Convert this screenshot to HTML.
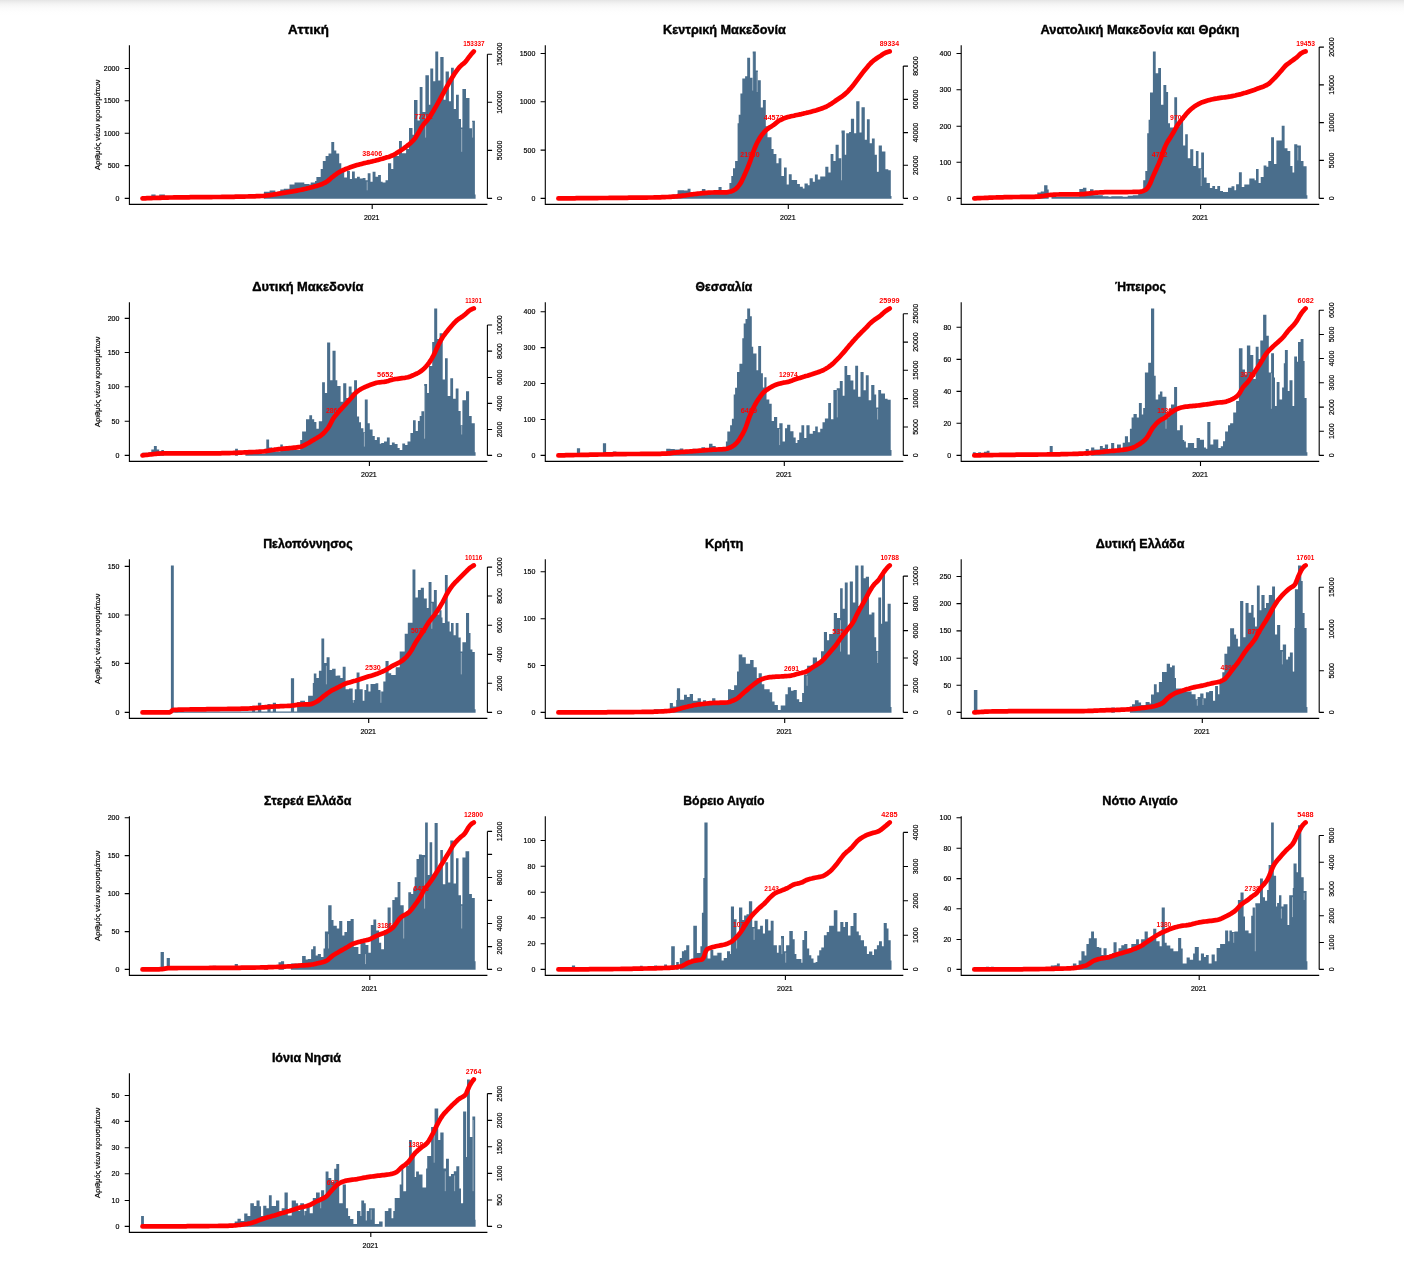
<!DOCTYPE html>
<html lang="el"><head><meta charset="utf-8"><title>Κρούσματα ανά περιφέρεια</title>
<style>html,body{margin:0;padding:0;background:#fff}body{width:1404px;height:1264px;overflow:hidden;position:relative}#top{position:absolute;left:0;top:0;width:100%;height:15px;background:linear-gradient(#e4e4e4 0,#ebebeb 1.5px,#f4f4f4 4px,#fbfbfb 8px,#fefefe 12px,#fff 15px)}svg{position:absolute;left:0;top:0;display:block}text{font-family:"Liberation Sans",sans-serif;fill:#000}.t{font-size:13px;font-weight:bold;text-anchor:middle;fill:#000;stroke:#000;stroke-width:.4px}.k,.kr,.km{font-size:7px;stroke:#000;stroke-width:.18px}.kr{text-anchor:end}.km{text-anchor:middle}.rl{font-size:7px;font-weight:bold;fill:#f00;text-anchor:middle}.ax{stroke:#000;stroke-width:1.1;fill:none}.b{fill:#4a6e8c}.c{fill:none;stroke:#ff0000;stroke-width:4.7;stroke-linecap:round;stroke-linejoin:round}</style></head><body><div id="top"></div>
<svg width="1404" height="1264" viewBox="0 0 1404 1264">
<g transform="translate(0,0)">
<text class="t" x="308.4" y="33.6" textLength="40.8" lengthAdjust="spacingAndGlyphs">Αττική</text>
<text class="km" transform="translate(100,124.8) rotate(-90)" textLength="90.5" lengthAdjust="spacingAndGlyphs">Αριθμός νέων κρουσμάτων</text>
<path class="b" d="M151.3 198.7V194.5H155.6V198.7ZM159.2 198.7V194.5H164.9V198.7ZM263.9 198.7V191.7H269.6V198.7ZM269.6 198.7V190.6H275.3V198.7ZM275.3 198.7V192.4H280.3V198.7ZM280.3 198.7V189.6H283.8V198.7ZM283.8 198.7V188.8H289.5V198.7ZM289.5 198.7V184.6H294.5V198.7ZM294.5 198.7V182.4H298.8V198.7ZM298.8 198.7V182.4H301V198.7ZM301 198.7V182.4H304.3V198.7ZM304.3 198.7V183.9H309.3V198.7ZM309.3 198.7V184.6H310.7V198.7ZM310.7 198.7V182.4H315V198.7ZM315 198.7V181H316.4V198.7ZM316.4 198.7V177H320.7V198.7ZM320.7 198.7V168.9H322.8V198.7ZM322.8 198.7V161.1H325.6V198.7ZM325.6 198.7V156.1H328.5V198.7ZM328.5 198.7V153.5H331.3V198.7ZM331.3 198.7V142.1H334.2V198.7ZM334.2 198.7V150.4H336.3V198.7ZM336.3 198.7V153.5H339.2V198.7ZM339.2 198.7V163.2H341.3V198.7ZM341.3 198.7V170.3H344.2V198.7ZM344.2 198.7V177.5H347V198.7ZM347 198.7V171H349.9V198.7ZM349.9 198.7V178.9H352V198.7ZM352 198.7V171.5H354.8V198.7ZM354.8 198.7V178.2H357V198.7ZM357 198.7V176.7H359.8V198.7ZM359.8 198.7V178.6H362.7V198.7ZM362.7 198.7V177.9H365.5V198.7ZM365.5 198.7V180.3H367.7V198.7ZM367.7 198.7V173.2H370.5V198.7ZM370.5 198.7V181.7H372.6V198.7ZM372.6 198.7V171.8H375.5V198.7ZM375.5 198.7V176.7H378.1V198.7ZM378.1 198.7V174.9H380.9V198.7ZM380.9 198.7V181.7H382.6V198.7ZM382.6 198.7V182.4H385.5V198.7ZM385.5 198.7V180.3H388V198.7ZM388 198.7V163.2H391.2V198.7ZM391.2 198.7V168.9H393.3V198.7ZM393.3 198.7V156.1H399V198.7ZM399 198.7V141.1H401.9V198.7ZM401.9 198.7V153.2H406.1V198.7ZM406.1 198.7V149H409V198.7ZM409 198.7V127.9H412.5V198.7ZM412.5 198.7V134.7H414V198.7ZM414 198.7V100.1H417.5V198.7ZM417.5 198.7V120.5H419.7V198.7ZM419.7 198.7V87H422.5V198.7ZM422.5 198.7V111.9H425.4V198.7ZM425.4 198.7V75.3H428.9V198.7ZM428.9 198.7V104.8H430.3V198.7ZM430.3 198.7V68.5H433.2V198.7ZM433.2 198.7V81.3H435.3V198.7ZM435.3 198.7V51.4H438.2V198.7ZM438.2 198.7V80.6H440.3V198.7ZM440.3 198.7V57.1H443.6V198.7ZM443.6 198.7V99.8H445.6V198.7ZM445.6 198.7V71.6H448.9V198.7ZM448.9 198.7V101.2H451V198.7ZM451 198.7V67.8H453.8V198.7ZM453.8 198.7V109.1H456V198.7ZM456 198.7V94.8H458.8V198.7ZM458.8 198.7V119H461V198.7ZM461 198.7V127.6H462.4V198.7ZM462.4 198.7V89.1H466V198.7ZM466 198.7V98.1H469.5V198.7ZM469.5 198.7V128.3H472.1V198.7ZM472.1 198.7V120.8H474.9V198.7ZM474.9 198.7V194.5H475.6V198.7Z"/>
<path d="M367.2 181.7V190.3M461.7 129V151.8M425.6 114.8V137.6M472.6 121.9V137.6" stroke="#fff" stroke-width="0.6" stroke-opacity="0.75" fill="none"/>
<path class="ax" d="M129.4 45.3V204.4H487.4"/>
<path class="ax" d="M129.4 68.5h-4.7M129.4 100.8h-4.7M129.4 133.3h-4.7M129.4 165.6h-4.7M129.4 198.4h-4.7M487.4 54.2V198.4M487.4 54.2h4.7M487.4 102.2h4.7M487.4 150.4h4.7M487.4 198.4h4.7M372.2 204.4v4.7"/>
<text class="kr" x="119.4" y="71">2000</text>
<text class="kr" x="119.4" y="103.3">1500</text>
<text class="kr" x="119.4" y="135.8">1000</text>
<text class="kr" x="119.4" y="168.1">500</text>
<text class="kr" x="119.4" y="200.9">0</text>
<text class="km" transform="translate(502.4,54.2) rotate(-90)">150000</text>
<text class="km" transform="translate(502.4,102.2) rotate(-90)">100000</text>
<text class="km" transform="translate(502.4,150.4) rotate(-90)">50000</text>
<text class="km" transform="translate(502.4,198.4) rotate(-90)">0</text>
<text class="km" x="371.7" y="219.5">2021</text>
<text class="rl" x="372.2" y="156.4" textLength="19.8" lengthAdjust="spacingAndGlyphs">38406</text>
<text class="rl" x="423.6" y="119" textLength="18.1" lengthAdjust="spacingAndGlyphs">77291</text>
<text class="rl" x="473.9" y="46.3" textLength="21.4" lengthAdjust="spacingAndGlyphs">153337</text>
<polyline class="c" points="142.5,198.4 144,198.3 145.5,198.3 147,198.2 148.5,198.2 150,198.1 151.5,198.1 153,198 154.5,198 156,197.9 157.5,197.9 159,197.8 160.5,197.8 162,197.7 163.5,197.7 165,197.6 166.5,197.6 168,197.6 169.5,197.5 171,197.5 172.5,197.5 174,197.4 175.5,197.4 177,197.4 178.5,197.4 180,197.4 181.5,197.3 183,197.3 184.5,197.3 186,197.3 187.5,197.3 189,197.3 190.5,197.2 192,197.2 193.5,197.2 195,197.2 196.5,197.2 198,197.2 199.5,197.2 201,197.2 202.5,197.1 204,197.1 205.5,197.1 207,197.1 208.5,197.1 210,197.1 211.5,197.1 213,197 214.5,197 216,197 217.5,197 219,197 220.5,197 222,196.9 223.5,196.9 225,196.9 226.5,196.9 228,196.9 229.5,196.8 231,196.8 232.5,196.8 234,196.8 235.5,196.7 237,196.7 238.5,196.7 240,196.7 241.5,196.6 243,196.6 244.5,196.6 246,196.5 247.5,196.5 249,196.4 250.5,196.4 252,196.4 253.5,196.3 255,196.3 256.5,196.2 258,196.2 259.5,196.1 261,196 262.5,196 264,195.9 265.5,195.7 267,195.5 268.5,195.3 270,195.1 271.5,194.8 273,194.6 274.5,194.3 276,194.1 277.5,193.9 279,193.6 280.5,193.4 282,193.2 283.5,192.9 285,192.7 286.5,192.4 288,192.2 289.5,191.9 291,191.7 292.5,191.4 294,191.2 295.5,190.9 297,190.6 298.5,190.3 300,190 301.5,189.7 303,189.4 304.5,189 306,188.7 307.5,188.3 309,188 310.5,187.6 312,187.2 313.5,186.8 315,186.3 316.5,185.9 318,185.4 319.5,185 321,184.4 322.5,183.9 324,183.2 325.5,182.5 327,181.6 328.5,180.4 330,179.1 331.5,177.7 333,176.6 334.5,175.4 336,174.3 337.5,173.2 339,172.3 340.5,171.4 342,170.7 343.5,170 345,169.3 346.5,168.7 348,168.2 349.5,167.6 351,167.1 352.5,166.6 354,166.1 355.5,165.6 357,165.1 358.5,164.7 360,164.3 361.5,163.9 363,163.5 364.5,163.1 366,162.8 367.5,162.4 369,162.1 370.5,161.8 372,161.4 373.5,161 375,160.7 376.5,160.3 378,159.9 379.5,159.5 381,159.1 382.5,158.7 384,158.2 385.5,157.8 387,157.3 388.5,156.9 390,156.4 391.5,155.8 393,155.2 394.5,154.4 396,153.5 397.5,152.5 399,151.6 400.5,150.6 402,149.6 403.5,148.6 405,147.5 406.5,146.4 408,145.2 409.5,144 411,142.7 412.5,141.2 414,139.6 415.5,137.7 417,135.3 418.5,132.8 420,130.1 421.5,127.5 423,125.2 424.5,123.3 426,121.6 427.5,119.9 429,117.9 430.5,115.7 432,113.3 433.5,110.8 435,108.2 436.5,105.6 438,102.9 439.5,100.2 441,97.5 442.5,94.7 444,92 445.5,89.2 447,86.5 448.5,83.8 450,81.3 451.5,78.7 453,76.2 454.5,73.8 456,71.6 457.5,69.6 459,67.7 460.5,66.1 462,64.7 463.5,63.6 465,62.3 466.5,60.5 468,58.4 469.5,56.4 471,54.6 472.5,52.8 473.8,51.4"/>
</g>
<g transform="translate(415.9,0)">
<text class="t" x="308.5" y="33.6" textLength="122.7" lengthAdjust="spacingAndGlyphs">Κεντρική Μακεδονία</text>
<path class="b" d="M256.8 198.7V194.5H261.7V198.7ZM261.7 198.7V190.3H268.1V198.7ZM268.1 198.7V190.6H271.7V198.7ZM271.7 198.7V188.8H274.6V198.7ZM274.6 198.7V192.4H278.8V198.7ZM278.8 198.7V193.8H286V198.7ZM286 198.7V189.1H289.5V198.7ZM289.5 198.7V193.1H301V198.7ZM301 198.7V193.1H302.6V198.7ZM302.6 198.7V187.1H305.7V198.7ZM305.7 198.7V191.7H313.5V198.7ZM313.5 198.7V183.1H315.4V198.7ZM315.4 198.7V176H317.1V198.7ZM317.1 198.7V168.2H319.2V198.7ZM319.2 198.7V161.1H321.7V198.7ZM321.7 198.7V123.3H322.8V198.7ZM322.8 198.7V114.8H324.5V198.7ZM324.5 198.7V93.4H326.4V198.7ZM326.4 198.7V78.4H329.2V198.7ZM329.2 198.7V76.3H331.3V198.7ZM331.3 198.7V57.8H334.2V198.7ZM334.2 198.7V77.7H336.8V198.7ZM336.8 198.7V51.4H339.9V198.7ZM339.9 198.7V70.6H342V198.7ZM342 198.7V80.3H344.9V198.7ZM344.9 198.7V107.6H347V198.7ZM347 198.7V100.1H349.9V198.7ZM349.9 198.7V126.2H351.6V198.7ZM351.6 198.7V137.3H355.6V198.7ZM355.6 198.7V149H357.7V198.7ZM357.7 198.7V153.9H360.5V198.7ZM360.5 198.7V163.2H362.7V198.7ZM362.7 198.7V158.2H365.5V198.7ZM365.5 198.7V176H368.1V198.7ZM368.1 198.7V167.5H370.8V198.7ZM370.8 198.7V184.6H372.9V198.7ZM372.9 198.7V174.3H375.8V198.7ZM375.8 198.7V180H381.2V198.7ZM381.2 198.7V183.9H384V198.7ZM384 198.7V186.7H386.9V198.7ZM386.9 198.7V188.6H388.6V198.7ZM388.6 198.7V183.6H391.9V198.7ZM391.9 198.7V185.3H393.7V198.7ZM393.7 198.7V178.2H396.9V198.7ZM396.9 198.7V181.7H399V198.7ZM399 198.7V174.6H401.9V198.7ZM401.9 198.7V179.6H404.3V198.7ZM404.3 198.7V176.5H409.4V198.7ZM409.4 198.7V166.8H412.5V198.7ZM412.5 198.7V172.5H414.7V198.7ZM414.7 198.7V153.9H417.5V198.7ZM417.5 198.7V161.1H419.7V198.7ZM419.7 198.7V144.7H422.8V198.7ZM422.8 198.7V158.2H425.6V198.7ZM425.6 198.7V130.4H428.9V198.7ZM428.9 198.7V154.7H430.3V198.7ZM430.3 198.7V133.3H433.2V198.7ZM433.2 198.7V131.9H435V198.7ZM435 198.7V118.8H438.2V198.7ZM438.2 198.7V133.3H440.3V198.7ZM440.3 198.7V101.2H443.6V198.7ZM443.6 198.7V132.6H445.6V198.7ZM445.6 198.7V107.2H448.9V198.7ZM448.9 198.7V139.7H451V198.7ZM451 198.7V119.3H453.8V198.7ZM453.8 198.7V143.3H456V198.7ZM456 198.7V138.6H458.8V198.7ZM458.8 198.7V154.7H461V198.7ZM461 198.7V171.8H462.8V198.7ZM462.8 198.7V145.4H466V198.7ZM466 198.7V151.5H469.5V198.7ZM469.5 198.7V169.3H472.4V198.7ZM472.4 198.7V170.3H474.9V198.7ZM474.9 198.7V196H475.6V198.7Z"/>
<path d="M336.8 53.5V90.6M341.3 72V92M425.6 133.3V180.3M461.7 156.1V171.8" stroke="#fff" stroke-width="0.6" stroke-opacity="0.75" fill="none"/>
<path class="ax" d="M129.4 45.3V204.4H487.4"/>
<path class="ax" d="M129.4 53.5h-4.7M129.4 101.7h-4.7M129.4 150.1h-4.7M129.4 198.4h-4.7M487.4 66.1V198.4M487.4 66.1h4.7M487.4 99.4h4.7M487.4 132.6h4.7M487.4 165.3h4.7M487.4 198.4h4.7M372.4 204.4v4.7"/>
<text class="kr" x="119.4" y="56">1500</text>
<text class="kr" x="119.4" y="104.2">1000</text>
<text class="kr" x="119.4" y="152.6">500</text>
<text class="kr" x="119.4" y="200.9">0</text>
<text class="km" transform="translate(502.4,66.1) rotate(-90)">80000</text>
<text class="km" transform="translate(502.4,99.4) rotate(-90)">60000</text>
<text class="km" transform="translate(502.4,132.6) rotate(-90)">40000</text>
<text class="km" transform="translate(502.4,165.3) rotate(-90)">20000</text>
<text class="km" transform="translate(502.4,198.4) rotate(-90)">0</text>
<text class="km" x="371.9" y="219.5">2021</text>
<text class="rl" x="334" y="156.8" textLength="19.2" lengthAdjust="spacingAndGlyphs">21960</text>
<text class="rl" x="357.7" y="119.8" textLength="19.7" lengthAdjust="spacingAndGlyphs">44572</text>
<text class="rl" x="473.5" y="45.7" textLength="19.4" lengthAdjust="spacingAndGlyphs">89334</text>
<polyline class="c" points="142.5,198.4 144,198.4 145.5,198.4 147,198.4 148.5,198.3 150,198.3 151.5,198.3 153,198.3 154.5,198.3 156,198.3 157.5,198.3 159,198.3 160.5,198.2 162,198.2 163.5,198.2 165,198.2 166.5,198.2 168,198.2 169.5,198.2 171,198.2 172.5,198.1 174,198.1 175.5,198.1 177,198.1 178.5,198.1 180,198.1 181.5,198.1 183,198 184.5,198 186,198 187.5,198 189,198 190.5,198 192,198 193.5,197.9 195,197.9 196.5,197.9 198,197.9 199.5,197.9 201,197.9 202.5,197.9 204,197.8 205.5,197.8 207,197.8 208.5,197.8 210,197.8 211.5,197.8 213,197.7 214.5,197.7 216,197.7 217.5,197.7 219,197.7 220.5,197.7 222,197.7 223.5,197.7 225,197.6 226.5,197.6 228,197.6 229.5,197.6 231,197.6 232.5,197.5 234,197.5 235.5,197.5 237,197.5 238.5,197.4 240,197.4 241.5,197.4 243,197.3 244.5,197.3 246,197.2 247.5,197.2 249,197.1 250.5,197 252,197 253.5,196.9 255,196.8 256.5,196.7 258,196.6 259.5,196.5 261,196.4 262.5,196.2 264,196.1 265.5,195.9 267,195.7 268.5,195.5 270,195.3 271.5,195 273,194.8 274.5,194.5 276,194.3 277.5,194.2 279,194 280.5,193.8 282,193.6 283.5,193.5 285,193.3 286.5,193.2 288,193.1 289.5,192.9 291,192.8 292.5,192.7 294,192.6 295.5,192.5 297,192.5 298.5,192.4 300,192.4 301.5,192.4 303,192.4 304.5,192.4 306,192.4 307.5,192.4 309,192.4 310.5,192.3 312,192.1 313.5,191.8 315,191.5 316.5,190.9 318,190.1 319.5,189.2 321,187.9 322.5,186.2 324,184.2 325.5,181.7 327,178.6 328.5,175.3 330,171.9 331.5,168.4 333,164.6 334.5,160.6 336,156.1 337.5,151.5 339,147.7 340.5,144.3 342,141.3 343.5,138.6 345,136.3 346.5,134.2 348,132.4 349.5,130.8 351,129.5 352.5,128.3 354,127.3 355.5,126.4 357,125.4 358.5,124.3 360,123.1 361.5,121.9 363,120.8 364.5,120 366,119.3 367.5,118.6 369,118.1 370.5,117.6 372,117.1 373.5,116.7 375,116.3 376.5,116 378,115.7 379.5,115.3 381,115 382.5,114.7 384,114.4 385.5,114.1 387,113.7 388.5,113.3 390,113 391.5,112.6 393,112.3 394.5,111.9 396,111.5 397.5,111.1 399,110.7 400.5,110.3 402,109.8 403.5,109.3 405,108.8 406.5,108.2 408,107.6 409.5,107 411,106.3 412.5,105.5 414,104.6 415.5,103.7 417,102.6 418.5,101.6 420,100.5 421.5,99.5 423,98.5 424.5,97.5 426,96.5 427.5,95.4 429,94.1 430.5,92.8 432,91.3 433.5,89.7 435,88.1 436.5,86.3 438,84.4 439.5,82.4 441,80.4 442.5,78.4 444,76.4 445.5,74.4 447,72.4 448.5,70.5 450,68.7 451.5,66.9 453,65.1 454.5,63.5 456,62 457.5,60.7 459,59.6 460.5,58.5 462,57.5 463.5,56.6 465,55.6 466.5,54.5 468,53.6 469.5,52.8 471,52.2 472.5,51.7 473.8,51.4"/>
</g>
<g transform="translate(831.8,0)">
<text class="t" x="308.1" y="33.6" textLength="198.8" lengthAdjust="spacingAndGlyphs">Ανατολική Μακεδονία και Θράκη</text>
<path class="b" d="M205.5 198.7V192.4H209V198.7ZM209 198.7V191.4H212.3V198.7ZM212.3 198.7V185.3H215.7V198.7ZM215.7 198.7V189.6H216.9V198.7ZM219.7 198.7V196.7H301V198.7ZM219.7 198.7V193.4H224V198.7ZM247.5 198.7V189.1H251.1V198.7ZM251.1 198.7V187.8H254.6V198.7ZM254.6 198.7V193.1H258.2V198.7ZM258.2 198.7V189.3H261.7V198.7ZM261.7 198.7V195.3H271V198.7ZM271 198.7V196.3H276.7V198.7ZM279.5 198.7V196.3H290.9V198.7ZM295.9 198.7V195.7H301V198.7ZM301 198.7V195.3H306.4V198.7ZM306.4 198.7V193.1H311.4V198.7ZM311.4 198.7V180.3H313.5V198.7ZM313.5 198.7V171H315.4V198.7ZM315.4 198.7V133.3H316.8V198.7ZM316.8 198.7V119.8H318.2V198.7ZM318.2 198.7V92.4H321.1V198.7ZM321.1 198.7V51.4H323.9V198.7ZM323.9 198.7V73.2H326.4V198.7ZM326.4 198.7V68H329.2V198.7ZM329.2 198.7V104.8H331.6V198.7ZM331.6 198.7V85.1H334.5V198.7ZM334.5 198.7V92H336.3V198.7ZM336.3 198.7V123.3H338.2V198.7ZM338.2 198.7V127.6H342.5V198.7ZM342.5 198.7V97.3H345.3V198.7ZM345.3 198.7V126.2H348.4V198.7ZM348.4 198.7V120.5H351.3V198.7ZM351.3 198.7V145.4H353.4V198.7ZM353.4 198.7V134.3H356V198.7ZM356 198.7V158.2H358.4V198.7ZM358.4 198.7V149.2H361.5V198.7ZM361.5 198.7V166.1H364.1V198.7ZM364.1 198.7V151.1H366.7V198.7ZM366.7 198.7V168.2H369.4V198.7ZM369.4 198.7V152.5H372.2V198.7ZM372.2 198.7V177.5H374.8V198.7ZM374.8 198.7V183.1H378.1V198.7ZM378.1 198.7V188.1H380.5V198.7ZM380.5 198.7V186H383.3V198.7ZM383.3 198.7V189.1H385.5V198.7ZM385.5 198.7V186H388.3V198.7ZM388.3 198.7V191H391.2V198.7ZM391.2 198.7V192.1H396.2V198.7ZM396.2 198.7V187.7H399.7V198.7ZM399.7 198.7V186.3H402.6V198.7ZM402.6 198.7V190.3H404.3V198.7ZM404.3 198.7V184.3H407.1V198.7ZM407.1 198.7V172.2H410V198.7ZM410 198.7V187.1H412.5V198.7ZM412.5 198.7V184.6H417.5V198.7ZM417.5 198.7V178.6H422.8V198.7ZM422.8 198.7V180.3H424.2V198.7ZM424.2 198.7V168.9H426.8V198.7ZM426.8 198.7V183.1H428.9V198.7ZM428.9 198.7V177H431.8V198.7ZM431.8 198.7V165.6H434.6V198.7ZM434.6 198.7V166.8H436.5V198.7ZM436.5 198.7V161.1H439.3V198.7ZM439.3 198.7V137.3H442.2V198.7ZM442.2 198.7V163.9H444.6V198.7ZM444.6 198.7V140.4H449.9V198.7ZM449.9 198.7V125.7H452.8V198.7ZM452.8 198.7V148.2H455.7V198.7ZM455.7 198.7V151.1H458.5V198.7ZM458.5 198.7V166.1H460.7V198.7ZM460.7 198.7V172.5H462.4V198.7ZM462.4 198.7V144.3H465.5V198.7ZM465.5 198.7V145.4H469.1V198.7ZM469.1 198.7V161.1H471.7V198.7ZM471.7 198.7V166.3H474.8V198.7ZM474.8 198.7V195.3H475.6V198.7Z"/>
<path d="M369.4 168.9V186M466 147.5V160.4" stroke="#fff" stroke-width="0.6" stroke-opacity="0.75" fill="none"/>
<path class="ax" d="M129.4 45.3V204.4H487.4"/>
<path class="ax" d="M129.4 53.5h-4.7M129.4 89.8h-4.7M129.4 126.2h-4.7M129.4 162.2h-4.7M129.4 198.4h-4.7M487.4 47.1V198.4M487.4 47.1h4.7M487.4 84.9h4.7M487.4 122.6h4.7M487.4 160.4h4.7M487.4 198.4h4.7M368.8 204.4v4.7"/>
<text class="kr" x="119.4" y="56">400</text>
<text class="kr" x="119.4" y="92.3">300</text>
<text class="kr" x="119.4" y="128.7">200</text>
<text class="kr" x="119.4" y="164.7">100</text>
<text class="kr" x="119.4" y="200.9">0</text>
<text class="km" transform="translate(502.4,47.1) rotate(-90)">20000</text>
<text class="km" transform="translate(502.4,84.9) rotate(-90)">15000</text>
<text class="km" transform="translate(502.4,122.6) rotate(-90)">10000</text>
<text class="km" transform="translate(502.4,160.4) rotate(-90)">5000</text>
<text class="km" transform="translate(502.4,198.4) rotate(-90)">0</text>
<text class="km" x="368.3" y="219.5">2021</text>
<text class="rl" x="327.8" y="156.8" textLength="15.6" lengthAdjust="spacingAndGlyphs">4752</text>
<text class="rl" x="345.9" y="119.8" textLength="15.2" lengthAdjust="spacingAndGlyphs">9703</text>
<text class="rl" x="473.9" y="45.7" textLength="18.8" lengthAdjust="spacingAndGlyphs">19453</text>
<polyline class="c" points="142.5,198.4 144,198.3 145.5,198.2 147,198.2 148.5,198.1 150,198 151.5,198 153,197.9 154.5,197.8 156,197.8 157.5,197.7 159,197.7 160.5,197.6 162,197.5 163.5,197.5 165,197.4 166.5,197.4 168,197.3 169.5,197.3 171,197.3 172.5,197.2 174,197.2 175.5,197.1 177,197.1 178.5,197.1 180,197.1 181.5,197 183,197 184.5,197 186,197 187.5,197 189,196.9 190.5,196.9 192,196.9 193.5,196.9 195,196.9 196.5,196.9 198,196.8 199.5,196.8 201,196.8 202.5,196.8 204,196.7 205.5,196.7 207,196.6 208.5,196.4 210,196.2 211.5,196 213,195.7 214.5,195.5 216,195.2 217.5,195 219,194.9 220.5,194.8 222,194.7 223.5,194.6 225,194.5 226.5,194.5 228,194.4 229.5,194.3 231,194.3 232.5,194.3 234,194.3 235.5,194.3 237,194.3 238.5,194.3 240,194.3 241.5,194.3 243,194.3 244.5,194.3 246,194.3 247.5,194.3 249,194.2 250.5,194.2 252,194.1 253.5,193.9 255,193.7 256.5,193.5 258,193.3 259.5,193.1 261,193 262.5,192.8 264,192.7 265.5,192.6 267,192.5 268.5,192.4 270,192.3 271.5,192.3 273,192.2 274.5,192.1 276,192.1 277.5,192.1 279,192.1 280.5,192.1 282,192.1 283.5,192.1 285,192.1 286.5,192.1 288,192.1 289.5,192.1 291,192.1 292.5,192.1 294,192.1 295.5,192.1 297,192 298.5,192 300,192 301.5,191.9 303,191.9 304.5,191.9 306,191.8 307.5,191.8 309,191.7 310.5,191.3 312,190.8 313.5,190 315,188.9 316.5,186.8 318,184.2 319.5,180.7 321,176.9 322.5,173.5 324,170.2 325.5,166.9 327,163.7 328.5,160 330,155.6 331.5,151.4 333,147.4 334.5,144.1 336,141.4 337.5,139.1 339,136.7 340.5,134.2 342,131.7 343.5,129.1 345,126.4 346.5,124.1 348,122 349.5,120.1 351,118.3 352.5,116.4 354,114.6 355.5,112.8 357,111.2 358.5,109.8 360,108.5 361.5,107.3 363,106.2 364.5,105.3 366,104.4 367.5,103.6 369,102.9 370.5,102.2 372,101.7 373.5,101.2 375,100.7 376.5,100.3 378,99.9 379.5,99.5 381,99.2 382.5,98.9 384,98.6 385.5,98.4 387,98.1 388.5,97.9 390,97.7 391.5,97.5 393,97.3 394.5,97.1 396,96.9 397.5,96.6 399,96.4 400.5,96.1 402,95.8 403.5,95.5 405,95.1 406.5,94.7 408,94.4 409.5,94 411,93.5 412.5,93.1 414,92.7 415.5,92.2 417,91.7 418.5,91.2 420,90.7 421.5,90.2 423,89.7 424.5,89.1 426,88.5 427.5,88 429,87.4 430.5,86.9 432,86.4 433.5,85.7 435,85 436.5,84.1 438,82.9 439.5,81.4 441,79.9 442.5,78.4 444,76.8 445.5,75.2 447,73.5 448.5,71.8 450,70.1 451.5,68.3 453,66.5 454.5,65 456,63.9 457.5,62.8 459,61.7 460.5,60.6 462,59.5 463.5,58.4 465,57.3 466.5,55.9 468,54.4 469.5,53.2 471,52.4 472.5,51.7 473.8,51.4"/>
</g>
<g transform="translate(0,257)">
<text class="t" x="307.9" y="33.6" textLength="111.1" lengthAdjust="spacingAndGlyphs">Δυτική Μακεδονία</text>
<text class="km" transform="translate(100,124.8) rotate(-90)" textLength="90.5" lengthAdjust="spacingAndGlyphs">Αριθμός νέων κρουσμάτων</text>
<path class="b" d="M142.1 198.7V195.7H146.4V198.7ZM148.5 198.7V195.3H151.3V198.7ZM151.3 198.7V192.4H153.9V198.7ZM153.9 198.7V189.1H156.8V198.7ZM156.8 198.7V192.4H159.2V198.7ZM159.2 198.7V194.3H161.3V198.7ZM161.3 198.7V193.1H163.9V198.7ZM235.1 198.7V191.7H237.9V198.7ZM245.4 198.7V196.7H265.3V198.7ZM265.3 198.7V191.7H266.3V198.7ZM266.3 198.7V182.4H269.1V198.7ZM269.1 198.7V190.6H272.1V198.7ZM272.1 198.7V194.5H280.3V198.7ZM280.3 198.7V187.4H282.8V198.7ZM282.8 198.7V193.1H300.2V198.7ZM300.2 198.7V183.1H301V198.7ZM301 198.7V183.1H302.1V198.7ZM302.1 198.7V174.6H306V198.7ZM306 198.7V162.2H309.3V198.7ZM309.3 198.7V158.2H312.1V198.7ZM312.1 198.7V162.2H314.2V198.7ZM314.2 198.7V164.9H316.4V198.7ZM316.4 198.7V171.8H318.8V198.7ZM318.8 198.7V164.2H322.1V198.7ZM322.1 198.7V125.2H324.9V198.7ZM324.9 198.7V136.1H327.1V198.7ZM327.1 198.7V85.6H330.2V198.7ZM330.2 198.7V123.3H332.5V198.7ZM332.5 198.7V93.8H335.6V198.7ZM335.6 198.7V123.3H337.3V198.7ZM337.3 198.7V129H340.6V198.7ZM340.6 198.7V144.7H343.2V198.7ZM343.2 198.7V126.2H346.3V198.7ZM346.3 198.7V141.1H348.7V198.7ZM348.7 198.7V129.4H351.6V198.7ZM351.6 198.7V135.4H354.1V198.7ZM354.1 198.7V123.3H357V198.7ZM357 198.7V159.6H359.1V198.7ZM359.1 198.7V165.3H361V198.7ZM361 198.7V171.3H363.4V198.7ZM363.4 198.7V175.3H364.8V198.7ZM364.8 198.7V142.5H367.7V198.7ZM367.7 198.7V166.3H369.8V198.7ZM369.8 198.7V172.5H372.6V198.7ZM372.6 198.7V178.9H374.8V198.7ZM374.8 198.7V183.1H376.9V198.7ZM376.9 198.7V180.3H379.8V198.7ZM379.8 198.7V186.7H381.2V198.7ZM381.2 198.7V186H384V198.7ZM384 198.7V184.6H386.9V198.7ZM386.9 198.7V180.6H389.7V198.7ZM389.7 198.7V188.1H391.9V198.7ZM391.9 198.7V185.6H394.7V198.7ZM394.7 198.7V187.1H397.6V198.7ZM397.6 198.7V191H399.7V198.7ZM399.7 198.7V193.1H402.3V198.7ZM402.3 198.7V186.4H405.1V198.7ZM405.1 198.7V188.1H407.5V198.7ZM407.5 198.7V184.6H410.4V198.7ZM410.4 198.7V176H413V198.7ZM413 198.7V163.2H415.7V198.7ZM415.7 198.7V173.9H417.9V198.7ZM417.9 198.7V163.9H419.7V198.7ZM419.7 198.7V158.9H421.4V198.7ZM421.4 198.7V154.2H424.2V198.7ZM424.2 198.7V126.9H427.1V198.7ZM427.1 198.7V136.1H428.9V198.7ZM428.9 198.7V109.1H432.2V198.7ZM432.2 198.7V84.9H434.2V198.7ZM434.2 198.7V51.4H437.2V198.7ZM437.2 198.7V82H439.6V198.7ZM439.6 198.7V76.3H442.7V198.7ZM442.7 198.7V122.6H445V198.7ZM445 198.7V101.2H447.7V198.7ZM447.7 198.7V139H450.3V198.7ZM450.3 198.7V121.2H453.1V198.7ZM453.1 198.7V141.8H455.7V198.7ZM455.7 198.7V131.6H458.5V198.7ZM458.5 198.7V153.9H460.7V198.7ZM460.7 198.7V168.2H462.4V198.7ZM462.4 198.7V143.3H466V198.7ZM466 198.7V134.3H469.1V198.7ZM469.1 198.7V158.9H471.7V198.7ZM471.7 198.7V166.3H474.8V198.7ZM474.8 198.7V195.3H475.6V198.7Z"/>
<path d="M364.4 176V189.6M424.6 129V181.7M461.7 168.9V177.5" stroke="#fff" stroke-width="0.6" stroke-opacity="0.75" fill="none"/>
<path class="ax" d="M129.4 45.3V204.4H487.4"/>
<path class="ax" d="M129.4 61.4h-4.7M129.4 95.5h-4.7M129.4 129.7h-4.7M129.4 164.3h-4.7M129.4 198.4h-4.7M487.4 68V198.4M487.4 68h4.7M487.4 94.1h4.7M487.4 120.5h4.7M487.4 146.4h4.7M487.4 172.5h4.7M487.4 198.4h4.7M369.4 204.4v4.7"/>
<text class="kr" x="119.4" y="63.9">200</text>
<text class="kr" x="119.4" y="98">150</text>
<text class="kr" x="119.4" y="132.2">100</text>
<text class="kr" x="119.4" y="166.8">50</text>
<text class="kr" x="119.4" y="200.9">0</text>
<text class="km" transform="translate(502.4,68) rotate(-90)">10000</text>
<text class="km" transform="translate(502.4,94.1) rotate(-90)">8000</text>
<text class="km" transform="translate(502.4,120.5) rotate(-90)">6000</text>
<text class="km" transform="translate(502.4,146.4) rotate(-90)">4000</text>
<text class="km" transform="translate(502.4,172.5) rotate(-90)">2000</text>
<text class="km" transform="translate(502.4,198.4) rotate(-90)">0</text>
<text class="km" x="368.9" y="219.5">2021</text>
<text class="rl" x="333.5" y="155.8" textLength="15.1" lengthAdjust="spacingAndGlyphs">2861</text>
<text class="rl" x="385.2" y="119.8" textLength="16.2" lengthAdjust="spacingAndGlyphs">5652</text>
<text class="rl" x="473.5" y="45.7" textLength="16.6" lengthAdjust="spacingAndGlyphs">11301</text>
<polyline class="c" points="142.5,198.4 144,198.2 145.5,198 147,197.8 148.5,197.7 150,197.5 151.5,197.3 153,197.2 154.5,197 156,196.8 157.5,196.7 159,196.6 160.5,196.5 162,196.4 163.5,196.4 165,196.4 166.5,196.4 168,196.3 169.5,196.3 171,196.3 172.5,196.3 174,196.3 175.5,196.3 177,196.3 178.5,196.3 180,196.3 181.5,196.3 183,196.3 184.5,196.3 186,196.3 187.5,196.3 189,196.3 190.5,196.3 192,196.3 193.5,196.3 195,196.3 196.5,196.3 198,196.3 199.5,196.3 201,196.3 202.5,196.3 204,196.3 205.5,196.3 207,196.3 208.5,196.3 210,196.3 211.5,196.3 213,196.3 214.5,196.3 216,196.3 217.5,196.3 219,196.3 220.5,196.3 222,196.2 223.5,196.2 225,196.2 226.5,196.2 228,196.1 229.5,196.1 231,196 232.5,196 234,195.9 235.5,195.8 237,195.8 238.5,195.7 240,195.6 241.5,195.6 243,195.5 244.5,195.4 246,195.4 247.5,195.3 249,195.2 250.5,195.2 252,195.1 253.5,195 255,195 256.5,194.9 258,194.8 259.5,194.7 261,194.6 262.5,194.5 264,194.4 265.5,194.2 267,194 268.5,193.7 270,193.5 271.5,193.2 273,193 274.5,192.7 276,192.5 277.5,192.3 279,192.1 280.5,192 282,191.8 283.5,191.7 285,191.6 286.5,191.4 288,191.3 289.5,191.1 291,191 292.5,190.8 294,190.7 295.5,190.6 297,190.4 298.5,190.2 300,190 301.5,189.6 303,188.9 304.5,188.2 306,187.3 307.5,186.5 309,185.7 310.5,184.8 312,183.8 313.5,182.9 315,182 316.5,181.2 318,180.3 319.5,179.5 321,178.4 322.5,177.2 324,175.8 325.5,174.1 327,172.3 328.5,170.3 330,167.8 331.5,164.8 333,161.9 334.5,159.8 336,158 337.5,156.2 339,154.5 340.5,152.8 342,151.2 343.5,149.5 345,147.9 346.5,146.2 348,144.6 349.5,142.9 351,141.2 352.5,139.4 354,137.7 355.5,136 357,134.7 358.5,133.6 360,132.6 361.5,131.8 363,131 364.5,130.2 366,129.6 367.5,129 369,128.4 370.5,127.8 372,127.3 373.5,126.8 375,126.3 376.5,125.8 378,125.5 379.5,125.3 381,125.2 382.5,125 384,124.9 385.5,124.7 387,124.3 388.5,123.9 390,123.3 391.5,122.9 393,122.5 394.5,122.2 396,122 397.5,121.8 399,121.6 400.5,121.4 402,121.2 403.5,121 405,120.8 406.5,120.5 408,120.2 409.5,119.7 411,119.2 412.5,118.5 414,117.9 415.5,117.2 417,116.5 418.5,115.7 420,114.8 421.5,113.8 423,112.5 424.5,111.1 426,109.5 427.5,107.8 429,105.9 430.5,103.6 432,101.1 433.5,98.4 435,95.4 436.5,92 438,88.8 439.5,85.8 441,83 442.5,80.5 444,78.3 445.5,76.3 447,74.4 448.5,72.6 450,70.8 451.5,69 453,67.3 454.5,65.6 456,64.1 457.5,62.8 459,61.7 460.5,60.8 462,59.8 463.5,58.7 465,57.5 466.5,56.1 468,54.7 469.5,53.5 471,52.6 472.5,51.9 473.8,51.4"/>
</g>
<g transform="translate(415.9,257)">
<text class="t" x="308" y="33.6" textLength="56.7" lengthAdjust="spacingAndGlyphs">Θεσσαλία</text>
<path class="b" d="M161 198.7V191.3H164.2V198.7ZM187 198.7V186.3H190.2V198.7ZM190.2 198.7V195.3H194.1V198.7ZM196.9 198.7V194.5H200.5V198.7ZM250.3 198.7V191.7H254.6V198.7ZM254.6 198.7V192.1H258.9V198.7ZM258.9 198.7V192.4H263.9V198.7ZM263.9 198.7V191.4H267.4V198.7ZM267.4 198.7V195.3H276.7V198.7ZM276.7 198.7V191.7H280.7V198.7ZM280.7 198.7V193.8H285.5V198.7ZM285.5 198.7V190.3H289.1V198.7ZM289.1 198.7V193.1H293.1V198.7ZM293.1 198.7V186.7H296.6V198.7ZM296.6 198.7V189.1H299.8V198.7ZM299.8 198.7V191.7H301V198.7ZM301 198.7V193.1H310V198.7ZM310 198.7V184.6H311.4V198.7ZM311.4 198.7V174.6H314.2V198.7ZM314.2 198.7V168.2H316V198.7ZM316 198.7V161.8H317.8V198.7ZM317.8 198.7V137.6H319.2V198.7ZM319.2 198.7V130.7H321.1V198.7ZM321.1 198.7V115.1H323.5V198.7ZM323.5 198.7V106.7H326.4V198.7ZM326.4 198.7V81.3H327.8V198.7ZM327.8 198.7V66.6H329.6V198.7ZM329.6 198.7V62.1H331.3V198.7ZM331.3 198.7V51.4H334.2V198.7ZM334.2 198.7V59.2H335.9V198.7ZM335.9 198.7V89.8H337.3V198.7ZM337.3 198.7V96.5H340.6V198.7ZM340.6 198.7V113.3H342.3V198.7ZM342.3 198.7V89.1H345.2V198.7ZM345.2 198.7V116.2H347V198.7ZM347 198.7V130.4H348.4V198.7ZM348.4 198.7V120.2H350.6V198.7ZM350.6 198.7V142.5H353.4V198.7ZM353.4 198.7V146.8H355.8V198.7ZM355.8 198.7V163.9H358.1V198.7ZM358.1 198.7V159.9H361.3V198.7ZM361.3 198.7V171H363.4V198.7ZM363.4 198.7V166.3H366.7V198.7ZM366.7 198.7V184.6H369.1V198.7ZM369.1 198.7V171.3H371.2V198.7ZM371.2 198.7V167.8H374.4V198.7ZM374.4 198.7V174.2H377.6V198.7ZM377.6 198.7V180.6H379.8V198.7ZM379.8 198.7V186H381.5V198.7ZM381.5 198.7V183.1H383.3V198.7ZM383.3 198.7V175.6H385.5V198.7ZM385.5 198.7V168.2H388.3V198.7ZM388.3 198.7V181H390.5V198.7ZM390.5 198.7V168.2H393.7V198.7ZM393.7 198.7V176.7H396.9V198.7ZM396.9 198.7V173.9H399.3V198.7ZM399.3 198.7V169.6H401.9V198.7ZM401.9 198.7V175.3H404.3V198.7ZM404.3 198.7V171.8H406.6V198.7ZM406.6 198.7V165.3H409V198.7ZM409 198.7V161.4H412.3V198.7ZM412.3 198.7V146.1H415.1V198.7ZM415.1 198.7V162.2H417.5V198.7ZM417.5 198.7V132.9H420.8V198.7ZM420.8 198.7V131.2H423.9V198.7ZM423.9 198.7V124H426.8V198.7ZM426.8 198.7V138.7H428.6V198.7ZM428.6 198.7V109.1H431.3V198.7ZM431.3 198.7V117.9H434.6V198.7ZM434.6 198.7V123.6H437.5V198.7ZM437.5 198.7V132.6H439.3V198.7ZM439.3 198.7V108.8H442.2V198.7ZM442.2 198.7V139.7H444.6V198.7ZM444.6 198.7V115.1H447.7V198.7ZM447.7 198.7V133.3H449.9V198.7ZM449.9 198.7V118.3H452.8V198.7ZM452.8 198.7V143.3H455.3V198.7ZM455.3 198.7V128H458.5V198.7ZM458.5 198.7V137.6H460.3V198.7ZM460.3 198.7V150.4H462.4V198.7ZM462.4 198.7V132.9H465.2V198.7ZM465.2 198.7V136.4H469.1V198.7ZM469.1 198.7V141.8H471.7V198.7ZM471.7 198.7V142.8H474.8V198.7ZM474.8 198.7V193.1H475.6V198.7Z"/>
<path d="M363.7 171.8V188.1M461.7 151.8V162.5M421.4 133.3V160.4" stroke="#fff" stroke-width="0.6" stroke-opacity="0.75" fill="none"/>
<path class="ax" d="M129.4 45.3V204.4H487.4"/>
<path class="ax" d="M129.4 54.7h-4.7M129.4 90.6h-4.7M129.4 126.5h-4.7M129.4 162.5h-4.7M129.4 198.4h-4.7M487.4 56.7V198.4M487.4 56.7h4.7M487.4 85.1h4.7M487.4 113.3h4.7M487.4 141.6h4.7M487.4 170h4.7M487.4 198.4h4.7M368.4 204.4v4.7"/>
<text class="kr" x="119.4" y="57.2">400</text>
<text class="kr" x="119.4" y="93.1">300</text>
<text class="kr" x="119.4" y="129">200</text>
<text class="kr" x="119.4" y="165">100</text>
<text class="kr" x="119.4" y="200.9">0</text>
<text class="km" transform="translate(502.4,56.7) rotate(-90)">25000</text>
<text class="km" transform="translate(502.4,85.1) rotate(-90)">20000</text>
<text class="km" transform="translate(502.4,113.3) rotate(-90)">15000</text>
<text class="km" transform="translate(502.4,141.6) rotate(-90)">10000</text>
<text class="km" transform="translate(502.4,170) rotate(-90)">5000</text>
<text class="km" transform="translate(502.4,198.4) rotate(-90)">0</text>
<text class="km" x="367.9" y="219.5">2021</text>
<text class="rl" x="333" y="156.1" textLength="16.2" lengthAdjust="spacingAndGlyphs">6499</text>
<text class="rl" x="372.5" y="119.8" textLength="18.6" lengthAdjust="spacingAndGlyphs">12974</text>
<text class="rl" x="473.5" y="45.7" textLength="20.2" lengthAdjust="spacingAndGlyphs">25999</text>
<polyline class="c" points="142.5,198.4 144,198.4 145.5,198.3 147,198.3 148.5,198.3 150,198.2 151.5,198.2 153,198.2 154.5,198.1 156,198.1 157.5,198.1 159,198 160.5,198 162,198 163.5,198 165,197.9 166.5,197.9 168,197.9 169.5,197.8 171,197.8 172.5,197.8 174,197.7 175.5,197.7 177,197.7 178.5,197.6 180,197.6 181.5,197.6 183,197.5 184.5,197.5 186,197.5 187.5,197.5 189,197.4 190.5,197.4 192,197.4 193.5,197.3 195,197.3 196.5,197.3 198,197.2 199.5,197.2 201,197.2 202.5,197.2 204,197.1 205.5,197.1 207,197.1 208.5,197.1 210,197.1 211.5,197 213,197 214.5,197 216,197 217.5,197 219,197 220.5,197 222,197 223.5,197 225,196.9 226.5,196.9 228,196.9 229.5,196.9 231,196.9 232.5,196.9 234,196.9 235.5,196.9 237,196.9 238.5,196.8 240,196.8 241.5,196.8 243,196.8 244.5,196.8 246,196.7 247.5,196.7 249,196.7 250.5,196.6 252,196.4 253.5,196.3 255,196.1 256.5,195.9 258,195.7 259.5,195.6 261,195.4 262.5,195.3 264,195.1 265.5,195 267,194.9 268.5,194.8 270,194.7 271.5,194.6 273,194.5 274.5,194.4 276,194.3 277.5,194.2 279,194.1 280.5,194 282,193.8 283.5,193.7 285,193.6 286.5,193.5 288,193.3 289.5,193.2 291,193.1 292.5,193 294,192.9 295.5,192.8 297,192.7 298.5,192.6 300,192.6 301.5,192.5 303,192.4 304.5,192.4 306,192.3 307.5,192.2 309,192.1 310.5,191.8 312,191.4 313.5,190.8 315,190.2 316.5,189.4 318,188.3 319.5,187.1 321,185.6 322.5,183.7 324,181.5 325.5,179.1 327,176.5 328.5,173.5 330,170.1 331.5,165.8 333,161.3 334.5,157.5 336,154 337.5,150.9 339,148 340.5,145.3 342,142.9 343.5,140.7 345,138.6 346.5,136.7 348,135.1 349.5,133.8 351,132.7 352.5,131.7 354,130.8 355.5,129.9 357,129.1 358.5,128.4 360,127.8 361.5,127.3 363,126.8 364.5,126.4 366,126.1 367.5,125.7 369,125.5 370.5,125.2 372,124.9 373.5,124.5 375,123.9 376.5,123.4 378,122.8 379.5,122.3 381,121.8 382.5,121.3 384,120.9 385.5,120.4 387,120 388.5,119.6 390,119.1 391.5,118.7 393,118.2 394.5,117.7 396,117.3 397.5,116.8 399,116.3 400.5,115.8 402,115.3 403.5,114.7 405,114.1 406.5,113.5 408,112.8 409.5,112 411,111.1 412.5,110.1 414,109 415.5,107.9 417,106.6 418.5,105.2 420,103.7 421.5,102.2 423,100.7 424.5,99 426,97.3 427.5,95.6 429,93.9 430.5,92.1 432,90.3 433.5,88.4 435,86.7 436.5,84.9 438,83.3 439.5,81.6 441,80 442.5,78.4 444,76.8 445.5,75.3 447,73.9 448.5,72.4 450,70.9 451.5,69.3 453,67.7 454.5,66.2 456,64.8 457.5,63.6 459,62.5 460.5,61.5 462,60.5 463.5,59.5 465,58.2 466.5,56.9 468,55.5 469.5,54.2 471,53.2 472.5,52.2 473.8,51.4"/>
</g>
<g transform="translate(831.8,257)">
<text class="t" x="308.6" y="33.6" textLength="50.9" lengthAdjust="spacingAndGlyphs">Ήπειρος</text>
<path class="b" d="M141.1 198.7V195.3H143.9V198.7ZM146.4 198.7V195.3H149.2V198.7ZM152.1 198.7V194.8H154.9V198.7ZM154.9 198.7V193.8H157.7V198.7ZM217.9 198.7V189.1H220.9V198.7ZM253.9 198.7V192.1H257V198.7ZM259.3 198.7V190.6H262.5V198.7ZM262.5 198.7V192.4H268.1V198.7ZM268.1 198.7V189.1H271V198.7ZM271 198.7V191H273.1V198.7ZM273.1 198.7V187.4H276.3V198.7ZM276.3 198.7V192.4H279.3V198.7ZM279.3 198.7V186H282.4V198.7ZM282.4 198.7V193.1H285.2V198.7ZM285.2 198.7V187.4H289.1V198.7ZM289.1 198.7V191.7H290.9V198.7ZM290.9 198.7V185.7H293.1V198.7ZM293.1 198.7V179.3H296.2V198.7ZM296.2 198.7V185.3H298.1V198.7ZM298.1 198.7V171.8H299.8V198.7ZM299.8 198.7V160.4H301V198.7ZM301 198.7V160.4H301.7V198.7ZM301.7 198.7V157.1H305V198.7ZM305 198.7V160.4H307.1V198.7ZM307.1 198.7V146.1H310V198.7ZM310 198.7V157.5H311.4V198.7ZM311.4 198.7V151.1H313.1V198.7ZM313.1 198.7V115.5H316.4V198.7ZM316.4 198.7V105.8H319.2V198.7ZM319.2 198.7V51.4H322.4V198.7ZM322.4 198.7V118.8H323.9V198.7ZM323.9 198.7V142.5H326.4V198.7ZM326.4 198.7V137.6H328.1V198.7ZM328.1 198.7V134.4H330.6V198.7ZM330.6 198.7V139.7H334.6V198.7ZM334.6 198.7V160.4H337.3V198.7ZM337.3 198.7V151.8H339.2V198.7ZM339.2 198.7V147.5H342.3V198.7ZM342.3 198.7V130H345.3V198.7ZM345.3 198.7V173.2H348.1V198.7ZM348.1 198.7V168.2H351V198.7ZM351 198.7V183.1H352.4V198.7ZM352.4 198.7V184.6H354.1V198.7ZM354.1 198.7V190.6H356V198.7ZM356 198.7V186H362.3V198.7ZM362.3 198.7V191H364.8V198.7ZM364.8 198.7V181H368.1V198.7ZM368.1 198.7V182.7H372.2V198.7ZM372.2 198.7V190.6H374.1V198.7ZM374.1 198.7V191.7H375.5V198.7ZM375.5 198.7V164.9H378.6V198.7ZM378.6 198.7V187.4H381.5V198.7ZM381.5 198.7V182.4H386.5V198.7ZM386.5 198.7V191H389V198.7ZM389 198.7V189.3H391.2V198.7ZM391.2 198.7V184.3H393.3V198.7ZM393.3 198.7V174.6H396.2V198.7ZM396.2 198.7V168.2H398.3V198.7ZM398.3 198.7V166.3H401.4V198.7ZM401.4 198.7V155.4H404.3V198.7ZM404.3 198.7V144H407.1V198.7ZM407.1 198.7V91.3H410.7V198.7ZM410.7 198.7V112.6H413.2V198.7ZM413.2 198.7V117.6H415.1V198.7ZM415.1 198.7V88.4H418.5V198.7ZM418.5 198.7V98.1H421.5V198.7ZM421.5 198.7V121.9H423.9V198.7ZM423.9 198.7V89.8H426.8V198.7ZM426.8 198.7V102H428.5V198.7ZM428.5 198.7V83.4H431.3V198.7ZM431.3 198.7V57.8H434.6V198.7ZM434.6 198.7V78.7H437V198.7ZM437 198.7V115.5H439.3V198.7ZM439.3 198.7V96.3H442.2V198.7ZM442.2 198.7V120.5H443.2V198.7ZM443.2 198.7V149H444.9V198.7ZM444.9 198.7V125H447.7V198.7ZM447.7 198.7V142.5H450.3V198.7ZM450.3 198.7V130.4H452V198.7ZM452 198.7V106.2H453.1V198.7ZM453.1 198.7V93H456V198.7ZM456 198.7V134H457.7V198.7ZM457.7 198.7V123.3H460.7V198.7ZM460.7 198.7V149H462.4V198.7ZM462.4 198.7V99.4H465.2V198.7ZM465.2 198.7V104.8H466.2V198.7ZM466.2 198.7V84.9H468.8V198.7ZM468.8 198.7V82H471.7V198.7ZM471.7 198.7V104.1H472.8V198.7ZM472.8 198.7V141.1H474.8V198.7ZM474.8 198.7V195.3H475.6V198.7Z"/>
<path d="M439.6 116.2V151.8M334.2 160.4V171.8" stroke="#fff" stroke-width="0.6" stroke-opacity="0.75" fill="none"/>
<path class="ax" d="M129.4 45.3V204.4H487.4"/>
<path class="ax" d="M129.4 70.3h-4.7M129.4 102.4h-4.7M129.4 134.4h-4.7M129.4 166.3h-4.7M129.4 198.4h-4.7M487.4 53.2V198.4M487.4 53.2h4.7M487.4 77.5h4.7M487.4 101.5h4.7M487.4 125.7h4.7M487.4 150.1h4.7M487.4 174.2h4.7M487.4 198.4h4.7M368.7 204.4v4.7"/>
<text class="kr" x="119.4" y="72.8">80</text>
<text class="kr" x="119.4" y="104.9">60</text>
<text class="kr" x="119.4" y="136.9">40</text>
<text class="kr" x="119.4" y="168.8">20</text>
<text class="kr" x="119.4" y="200.9">0</text>
<text class="km" transform="translate(502.4,53.2) rotate(-90)">6000</text>
<text class="km" transform="translate(502.4,77.5) rotate(-90)">5000</text>
<text class="km" transform="translate(502.4,101.5) rotate(-90)">4000</text>
<text class="km" transform="translate(502.4,125.7) rotate(-90)">3000</text>
<text class="km" transform="translate(502.4,150.1) rotate(-90)">2000</text>
<text class="km" transform="translate(502.4,174.2) rotate(-90)">1000</text>
<text class="km" transform="translate(502.4,198.4) rotate(-90)">0</text>
<text class="km" x="368.2" y="219.5">2021</text>
<text class="rl" x="332.8" y="155.8" textLength="14.7" lengthAdjust="spacingAndGlyphs">1536</text>
<text class="rl" x="416.1" y="119.8" textLength="15.2" lengthAdjust="spacingAndGlyphs">3074</text>
<text class="rl" x="473.9" y="45.7" textLength="16.2" lengthAdjust="spacingAndGlyphs">6082</text>
<polyline class="c" points="142.5,198.4 144,198.4 145.5,198.3 147,198.3 148.5,198.3 150,198.2 151.5,198.2 153,198.2 154.5,198.2 156,198.1 157.5,198.1 159,198.1 160.5,198.1 162,198 163.5,198 165,198 166.5,198 168,197.9 169.5,197.9 171,197.9 172.5,197.9 174,197.9 175.5,197.8 177,197.8 178.5,197.8 180,197.8 181.5,197.8 183,197.8 184.5,197.7 186,197.7 187.5,197.7 189,197.7 190.5,197.7 192,197.7 193.5,197.7 195,197.6 196.5,197.6 198,197.6 199.5,197.6 201,197.6 202.5,197.6 204,197.6 205.5,197.6 207,197.5 208.5,197.5 210,197.5 211.5,197.5 213,197.5 214.5,197.5 216,197.4 217.5,197.4 219,197.4 220.5,197.4 222,197.4 223.5,197.3 225,197.3 226.5,197.3 228,197.3 229.5,197.2 231,197.2 232.5,197.2 234,197.1 235.5,197.1 237,197 238.5,197 240,197 241.5,196.9 243,196.9 244.5,196.8 246,196.8 247.5,196.7 249,196.6 250.5,196.6 252,196.5 253.5,196.4 255,196.3 256.5,196.2 258,196.1 259.5,195.9 261,195.8 262.5,195.7 264,195.5 265.5,195.4 267,195.3 268.5,195.1 270,195 271.5,194.8 273,194.6 274.5,194.5 276,194.3 277.5,194.2 279,194 280.5,193.9 282,193.8 283.5,193.6 285,193.5 286.5,193.4 288,193.2 289.5,193 291,192.8 292.5,192.6 294,192.4 295.5,192.1 297,191.8 298.5,191.4 300,191 301.5,190.5 303,189.8 304.5,189 306,188.1 307.5,187.2 309,186.2 310.5,185.1 312,183.9 313.5,182.5 315,180.8 316.5,178.5 318,175.8 319.5,173.1 321,170.8 322.5,169 324,167.2 325.5,165.7 327,164.3 328.5,163.2 330,162.3 331.5,161.6 333,160.8 334.5,159.6 336,158.2 337.5,156.8 339,155.7 340.5,154.7 342,153.7 343.5,152.8 345,152.1 346.5,151.5 348,150.9 349.5,150.5 351,150.2 352.5,149.9 354,149.7 355.5,149.6 357,149.4 358.5,149.2 360,149.1 361.5,148.9 363,148.8 364.5,148.6 366,148.5 367.5,148.3 369,148.1 370.5,147.9 372,147.7 373.5,147.5 375,147.3 376.5,147.1 378,146.9 379.5,146.6 381,146.4 382.5,146.1 384,145.9 385.5,145.7 387,145.5 388.5,145.4 390,145.3 391.5,145.1 393,144.9 394.5,144.6 396,144.1 397.5,143.5 399,142.9 400.5,142.2 402,141.4 403.5,140.4 405,139.3 406.5,137.9 408,135.9 409.5,133.2 411,130.6 412.5,128.8 414,127.2 415.5,125.6 417,123.7 418.5,121.5 420,119.2 421.5,117 423,114.8 424.5,112.5 426,110.3 427.5,108 429,105.7 430.5,103.1 432,100.5 433.5,98.1 435,95.9 436.5,94.2 438,92.6 439.5,91.2 441,89.8 442.5,88.4 444,87 445.5,85.7 447,84.4 448.5,83 450,81.6 451.5,80 453,78.2 454.5,76.2 456,74.3 457.5,72.5 459,71 460.5,69.4 462,67.8 463.5,66 465,63.9 466.5,61.3 468,58.7 469.5,56.4 471,54.4 472.5,52.7 473.8,51.4"/>
</g>
<g transform="translate(0,514)">
<text class="t" x="307.9" y="33.6" textLength="89.4" lengthAdjust="spacingAndGlyphs">Πελοπόννησος</text>
<text class="km" transform="translate(100,124.8) rotate(-90)" textLength="90.5" lengthAdjust="spacingAndGlyphs">Αριθμός νέων κρουσμάτων</text>
<path class="b" d="M170.9 198.7V51.4H173.8V198.7ZM174.1 198.7V197.4H301V198.7ZM252.1 198.7V191.7H255V198.7ZM257.9 198.7V188.8H261.3V198.7ZM267.4 198.7V190H270.6V198.7ZM272.8 198.7V188.8H276V198.7ZM290.9 198.7V164.3H294.1V198.7ZM297.1 198.7V188.1H300.2V198.7ZM300.2 198.7V186.7H301V198.7ZM301 198.7V186.7H305V198.7ZM305 198.7V189.6H308.1V198.7ZM308.1 198.7V181.7H312.8V198.7ZM312.8 198.7V168.9H313.8V198.7ZM313.8 198.7V159.6H316.4V198.7ZM316.4 198.7V163.9H318.9V198.7ZM318.9 198.7V156.8H321.4V198.7ZM321.4 198.7V124.5H324.2V198.7ZM324.2 198.7V149H326.6V198.7ZM326.6 198.7V143.3H329.6V198.7ZM329.6 198.7V156.1H332.1V198.7ZM332.1 198.7V154.7H335.6V198.7ZM335.6 198.7V161.8H337.3V198.7ZM337.3 198.7V161.4H340.3V198.7ZM340.3 198.7V163.9H342.7V198.7ZM342.7 198.7V152.8H345.6V198.7ZM345.6 198.7V175.3H349.1V198.7ZM349.1 198.7V174.6H352.7V198.7ZM352.7 198.7V186H354.8V198.7ZM354.8 198.7V175.3H356.6V198.7ZM356.6 198.7V158.6H359.5V198.7ZM359.5 198.7V175.3H362.7V198.7ZM362.7 198.7V186.7H364.4V198.7ZM364.4 198.7V176H366.2V198.7ZM366.2 198.7V170.3H368.4V198.7ZM368.4 198.7V177.5H370.5V198.7ZM370.5 198.7V170H375.5V198.7ZM375.5 198.7V169.3H378.3V198.7ZM378.3 198.7V176H380.5V198.7ZM380.5 198.7V177.5H383.3V198.7ZM383.3 198.7V167.5H385.5V198.7ZM385.5 198.7V147.1H388.6V198.7ZM388.6 198.7V159.2H391.2V198.7ZM391.2 198.7V161.1H395.7V198.7ZM395.7 198.7V153.2H399.7V198.7ZM399.7 198.7V137.6H404.7V198.7ZM404.7 198.7V119.8H407.8V198.7ZM407.8 198.7V108.8H412.5V198.7ZM412.5 198.7V55.4H415.4V198.7ZM415.4 198.7V83.4H417.9V198.7ZM417.9 198.7V75.9H420.8V198.7ZM420.8 198.7V73.7H423.9V198.7ZM423.9 198.7V84.4H426.8V198.7ZM426.8 198.7V94.1H428.6V198.7ZM428.6 198.7V68H431.5V198.7ZM431.5 198.7V87.7H433.9V198.7ZM433.9 198.7V75.9H436.8V198.7ZM436.8 198.7V100.5H439.3V198.7ZM439.3 198.7V96.3H441.5V198.7ZM441.5 198.7V103.4H442.5V198.7ZM442.5 198.7V109.1H444.9V198.7ZM444.9 198.7V61.1H447.7V198.7ZM447.7 198.7V107.6H449.6V198.7ZM449.6 198.7V117.6H451V198.7ZM451 198.7V109.1H453.6V198.7ZM453.6 198.7V121.2H455.7V198.7ZM455.7 198.7V109.1H458.5V198.7ZM458.5 198.7V123.6H460.7V198.7ZM460.7 198.7V137.6H462.4V198.7ZM462.4 198.7V128.3H466V198.7ZM466 198.7V99.1H469.1V198.7ZM469.1 198.7V119H470.5V198.7ZM470.5 198.7V135.4H472.4V198.7ZM472.4 198.7V138H474.8V198.7ZM474.8 198.7V195.3H475.6V198.7Z"/>
<path d="M326.4 151.8V170.3M353.4 177.5V188.8M380.9 177.5V188.8M431.8 89.1V114.8M461.3 139V160.4" stroke="#fff" stroke-width="0.6" stroke-opacity="0.75" fill="none"/>
<path class="ax" d="M129.4 45.3V204.4H487.4"/>
<path class="ax" d="M129.4 52.4h-4.7M129.4 101h-4.7M129.4 149.4h-4.7M129.4 198.4h-4.7M487.4 53.1V198.4M487.4 53.1h4.7M487.4 82h4.7M487.4 111.2h4.7M487.4 140.4h4.7M487.4 169.3h4.7M487.4 198.4h4.7M368.7 204.4v4.7"/>
<text class="kr" x="119.4" y="54.9">150</text>
<text class="kr" x="119.4" y="103.5">100</text>
<text class="kr" x="119.4" y="151.9">50</text>
<text class="kr" x="119.4" y="200.9">0</text>
<text class="km" transform="translate(502.4,53.1) rotate(-90)">10000</text>
<text class="km" transform="translate(502.4,82) rotate(-90)">8000</text>
<text class="km" transform="translate(502.4,111.2) rotate(-90)">6000</text>
<text class="km" transform="translate(502.4,140.4) rotate(-90)">4000</text>
<text class="km" transform="translate(502.4,169.3) rotate(-90)">2000</text>
<text class="km" transform="translate(502.4,198.4) rotate(-90)">0</text>
<text class="km" x="368.2" y="219.5">2021</text>
<text class="rl" x="372.9" y="156.1" textLength="15.8" lengthAdjust="spacingAndGlyphs">2530</text>
<text class="rl" x="418.5" y="119" textLength="15.2" lengthAdjust="spacingAndGlyphs">5073</text>
<text class="rl" x="473.6" y="46.1" textLength="17.1" lengthAdjust="spacingAndGlyphs">10116</text>
<polyline class="c" points="142.5,198.4 144,198.4 145.5,198.4 147,198.4 148.5,198.4 150,198.4 151.5,198.4 153,198.4 154.5,198.4 156,198.4 157.5,198.4 159,198.4 160.5,198.3 162,198.3 163.5,198.3 165,198.3 166.5,198.3 168,198.3 169.5,198.3 171,197.6 172.5,196.1 174,195.9 175.5,195.8 177,195.8 178.5,195.7 180,195.7 181.5,195.6 183,195.6 184.5,195.5 186,195.5 187.5,195.5 189,195.5 190.5,195.4 192,195.4 193.5,195.4 195,195.4 196.5,195.4 198,195.4 199.5,195.3 201,195.3 202.5,195.3 204,195.3 205.5,195.3 207,195.2 208.5,195.2 210,195.2 211.5,195.2 213,195.1 214.5,195.1 216,195.1 217.5,195.1 219,195.1 220.5,195 222,195 223.5,195 225,195 226.5,195 228,194.9 229.5,194.9 231,194.9 232.5,194.9 234,194.9 235.5,194.8 237,194.8 238.5,194.8 240,194.8 241.5,194.7 243,194.7 244.5,194.6 246,194.6 247.5,194.6 249,194.5 250.5,194.4 252,194.3 253.5,194.2 255,194.1 256.5,193.9 258,193.8 259.5,193.7 261,193.5 262.5,193.4 264,193.3 265.5,193.2 267,193.1 268.5,193 270,192.8 271.5,192.7 273,192.6 274.5,192.5 276,192.4 277.5,192.4 279,192.3 280.5,192.2 282,192.2 283.5,192.1 285,192 286.5,192 288,191.9 289.5,191.8 291,191.7 292.5,191.5 294,191.3 295.5,191.1 297,190.9 298.5,190.7 300,190.6 301.5,190.5 303,190.5 304.5,190.4 306,190.4 307.5,190.4 309,190.3 310.5,190.2 312,189.9 313.5,189.3 315,188.5 316.5,187.7 318,186.9 319.5,185.7 321,184.5 322.5,183.1 324,181.9 325.5,180.8 327,179.6 328.5,178.6 330,177.6 331.5,176.6 333,175.8 334.5,175.1 336,174.4 337.5,173.6 339,172.9 340.5,172.1 342,171.3 343.5,170.5 345,169.8 346.5,169.3 348,168.8 349.5,168.4 351,168 352.5,167.5 354,167.1 355.5,166.7 357,166.2 358.5,165.8 360,165.3 361.5,164.8 363,164.3 364.5,163.8 366,163.3 367.5,162.8 369,162.3 370.5,161.9 372,161.5 373.5,161 375,160.5 376.5,159.9 378,159.4 379.5,158.8 381,158.1 382.5,157.5 384,156.8 385.5,156.1 387,155.2 388.5,154.3 390,153.4 391.5,152.4 393,151.6 394.5,150.8 396,150.1 397.5,149.4 399,148.7 400.5,147.8 402,146.8 403.5,145.6 405,144.3 406.5,142.9 408,141.1 409.5,139.2 411,137 412.5,134.5 414,131.5 415.5,128.8 417,126.4 418.5,124.2 420,122 421.5,119.8 423,117.6 424.5,115.3 426,112.7 427.5,110.2 429,107.9 430.5,106 432,104.1 433.5,102.3 435,100.3 436.5,98.1 438,95.8 439.5,93.4 441,90.9 442.5,88.3 444,85.5 445.5,82.6 447,79.7 448.5,77.2 450,74.9 451.5,72.8 453,70.9 454.5,69.2 456,67.6 457.5,66.2 459,64.7 460.5,63.2 462,61.7 463.5,60.2 465,58.7 466.5,57.2 468,55.6 469.5,54.2 471,53.1 472.5,52.1 473.8,51.4"/>
</g>
<g transform="translate(415.9,514)">
<text class="t" x="308.3" y="33.6" textLength="38.5" lengthAdjust="spacingAndGlyphs">Κρήτη</text>
<path class="b" d="M238.2 198.7V195.3H253.9V198.7ZM253.9 198.7V189.1H257V198.7ZM257 198.7V192.4H260.3V198.7ZM260.3 198.7V186H261V198.7ZM261 198.7V174.3H264.2V198.7ZM264.2 198.7V185.7H268.1V198.7ZM268.1 198.7V180.7H271V198.7ZM271 198.7V183.1H273.8V198.7ZM273.8 198.7V180H277.1V198.7ZM277.1 198.7V186.7H281.7V198.7ZM281.7 198.7V184.3H285V198.7ZM285 198.7V190.3H287V198.7ZM287 198.7V186.3H290.2V198.7ZM290.2 198.7V190.3H296.2V198.7ZM296.2 198.7V184.3H299.5V198.7ZM299.5 198.7V189.6H301V198.7ZM301 198.7V189.6H312.1V198.7ZM312.1 198.7V175.3H315.2V198.7ZM315.2 198.7V176H318.2V198.7ZM318.2 198.7V171.3H321.1V198.7ZM321.1 198.7V157.5H322.8V198.7ZM322.8 198.7V140.4H326.4V198.7ZM326.4 198.7V143.3H329.9V198.7ZM329.9 198.7V149.7H334.2V198.7ZM334.2 198.7V146.1H337.7V198.7ZM337.7 198.7V153.2H340.9V198.7ZM340.9 198.7V163.9H342.7V198.7ZM342.7 198.7V159.2H345.9V198.7ZM345.9 198.7V170.3H348.4V198.7ZM348.4 198.7V175.3H353.8V198.7ZM353.8 198.7V178.2H356.3V198.7ZM356.3 198.7V187.4H358.7V198.7ZM358.7 198.7V191H362V198.7ZM362 198.7V196H364.8V198.7ZM364.8 198.7V191.4H369.4V198.7ZM369.4 198.7V180.3H371.9V198.7ZM371.9 198.7V173.2H375.1V198.7ZM375.1 198.7V176.7H377.6V198.7ZM377.6 198.7V176H380.9V198.7ZM380.9 198.7V185.3H383.3V198.7ZM383.3 198.7V188.1H386.2V198.7ZM386.2 198.7V178.9H388V198.7ZM388 198.7V160.4H391.2V198.7ZM391.2 198.7V151.8H396.9V198.7ZM396.9 198.7V143.5H401.1V198.7ZM401.1 198.7V147.5H405.1V198.7ZM405.1 198.7V137.3H408V198.7ZM408 198.7V118H411.1V198.7ZM411.1 198.7V126.2H413.2V198.7ZM413.2 198.7V120H417.9V198.7ZM417.9 198.7V99.1H421.1V198.7ZM421.1 198.7V104.1H424.2V198.7ZM424.2 198.7V74.2H426.8V198.7ZM426.8 198.7V94.8H428.9V198.7ZM428.9 198.7V68.5H431.8V198.7ZM431.8 198.7V140.4H433.9V198.7ZM433.9 198.7V67.5H437V198.7ZM437 198.7V88.4H439.3V198.7ZM439.3 198.7V51.4H442.5V198.7ZM442.5 198.7V92H444.9V198.7ZM444.9 198.7V51.4H447.7V198.7ZM447.7 198.7V64.2H449.9V198.7ZM449.9 198.7V62.8H453.1V198.7ZM453.1 198.7V100.5H455.7V198.7ZM455.7 198.7V98.4H458.5V198.7ZM458.5 198.7V123.3H460.3V198.7ZM460.3 198.7V136.9H462.4V198.7ZM462.4 198.7V83.4H465.2V198.7ZM465.2 198.7V109.8H466.2V198.7ZM466.2 198.7V56.4H469.1V198.7ZM469.1 198.7V107.6H471.7V198.7ZM471.7 198.7V89.8H474.8V198.7ZM474.8 198.7V193.1H475.6V198.7Z"/>
<path d="M461.7 137.6V149M424.6 106.2V137.6M391.2 161.8V171.8" stroke="#fff" stroke-width="0.6" stroke-opacity="0.75" fill="none"/>
<path class="ax" d="M129.4 45.3V204.4H487.4"/>
<path class="ax" d="M129.4 57.8h-4.7M129.4 104.8h-4.7M129.4 151.5h-4.7M129.4 198.4h-4.7M487.4 62.1V198.4M487.4 62.1h4.7M487.4 89.4h4.7M487.4 116.6h4.7M487.4 144h4.7M487.4 171.3h4.7M487.4 198.4h4.7M368.8 204.4v4.7"/>
<text class="kr" x="119.4" y="60.3">150</text>
<text class="kr" x="119.4" y="107.3">100</text>
<text class="kr" x="119.4" y="154">50</text>
<text class="kr" x="119.4" y="200.9">0</text>
<text class="km" transform="translate(502.4,62.1) rotate(-90)">10000</text>
<text class="km" transform="translate(502.4,89.4) rotate(-90)">8000</text>
<text class="km" transform="translate(502.4,116.6) rotate(-90)">6000</text>
<text class="km" transform="translate(502.4,144) rotate(-90)">4000</text>
<text class="km" transform="translate(502.4,171.3) rotate(-90)">2000</text>
<text class="km" transform="translate(502.4,198.4) rotate(-90)">0</text>
<text class="km" x="368.3" y="219.5">2021</text>
<text class="rl" x="375.6" y="156.5" textLength="15.1" lengthAdjust="spacingAndGlyphs">2691</text>
<text class="rl" x="424.2" y="119.8" textLength="15.8" lengthAdjust="spacingAndGlyphs">5356</text>
<text class="rl" x="473.8" y="46.1" textLength="18.6" lengthAdjust="spacingAndGlyphs">10788</text>
<polyline class="c" points="142.5,198.4 144,198.4 145.5,198.4 147,198.4 148.5,198.4 150,198.4 151.5,198.4 153,198.4 154.5,198.4 156,198.4 157.5,198.4 159,198.4 160.5,198.4 162,198.4 163.5,198.4 165,198.4 166.5,198.3 168,198.3 169.5,198.3 171,198.3 172.5,198.3 174,198.3 175.5,198.3 177,198.3 178.5,198.3 180,198.3 181.5,198.3 183,198.3 184.5,198.3 186,198.3 187.5,198.3 189,198.3 190.5,198.3 192,198.2 193.5,198.2 195,198.2 196.5,198.2 198,198.2 199.5,198.2 201,198.2 202.5,198.2 204,198.2 205.5,198.2 207,198.2 208.5,198.1 210,198.1 211.5,198.1 213,198.1 214.5,198.1 216,198.1 217.5,198.1 219,198 220.5,198 222,198 223.5,198 225,198 226.5,197.9 228,197.9 229.5,197.9 231,197.9 232.5,197.8 234,197.8 235.5,197.8 237,197.8 238.5,197.7 240,197.7 241.5,197.6 243,197.5 244.5,197.5 246,197.4 247.5,197.3 249,197.2 250.5,197.1 252,197 253.5,196.8 255,196.7 256.5,196.5 258,196.3 259.5,195.9 261,195.5 262.5,195.1 264,194.7 265.5,194.2 267,193.8 268.5,193.4 270,193 271.5,192.7 273,192.3 274.5,192 276,191.7 277.5,191.3 279,191 280.5,190.8 282,190.5 283.5,190.3 285,190.1 286.5,190 288,189.8 289.5,189.6 291,189.5 292.5,189.3 294,189.2 295.5,189.1 297,189 298.5,188.9 300,188.8 301.5,188.8 303,188.8 304.5,188.7 306,188.7 307.5,188.7 309,188.6 310.5,188.5 312,188.3 313.5,187.9 315,187.4 316.5,186.8 318,186.2 319.5,185.5 321,184.7 322.5,183.6 324,182.3 325.5,180.9 327,179.5 328.5,178.1 330,176.9 331.5,175.6 333,174.3 334.5,173 336,171.8 337.5,170.7 339,169.5 340.5,168.4 342,167.3 343.5,166.3 345,165.6 346.5,165 348,164.5 349.5,164.1 351,163.7 352.5,163.4 354,163.2 355.5,163.1 357,162.9 358.5,162.8 360,162.7 361.5,162.6 363,162.6 364.5,162.5 366,162.4 367.5,162.3 369,162.2 370.5,162.1 372,162 373.5,161.8 375,161.6 376.5,161.3 378,161 379.5,160.5 381,160.1 382.5,159.7 384,159.3 385.5,159 387,158.6 388.5,158.2 390,157.7 391.5,156.9 393,156 394.5,154.9 396,153.8 397.5,152.8 399,151.9 400.5,151 402,150 403.5,149 405,147.9 406.5,146.6 408,145.1 409.5,143.4 411,141.7 412.5,140 414,138.2 415.5,136.5 417,134.8 418.5,133 420,131.2 421.5,129.1 423,126.7 424.5,124.5 426,122.5 427.5,120.6 429,118.7 430.5,116.9 432,115 433.5,113.3 435,111.5 436.5,109.4 438,106.9 439.5,103.8 441,100.6 442.5,97.6 444,94.9 445.5,92.3 447,89.7 448.5,87 450,84.2 451.5,81.3 453,78.5 454.5,75.9 456,73.5 457.5,71.4 459,69.6 460.5,68.2 462,66.8 463.5,64.8 465,62.5 466.5,60.2 468,58 469.5,56 471,54.2 472.5,52.6 473.8,51.4"/>
</g>
<g transform="translate(831.8,514)">
<text class="t" x="308.3" y="33.6" textLength="88.6" lengthAdjust="spacingAndGlyphs">Δυτική Ελλάδα</text>
<path class="b" d="M142.1 198.7V176H145.6V198.7ZM279.5 198.7V193.4H283.1V198.7ZM298.1 198.7V192.4H300.2V198.7ZM300.2 198.7V190.3H301V198.7ZM301 198.7V190.3H303.1V198.7ZM303.1 198.7V186.3H306.8V198.7ZM306.8 198.7V188.6H309.3V198.7ZM309.3 198.7V191H313.8V198.7ZM313.8 198.7V188.1H317.8V198.7ZM317.8 198.7V189.6H319.2V198.7ZM319.2 198.7V180.6H322.1V198.7ZM322.1 198.7V170.3H324.9V198.7ZM324.9 198.7V178.2H327.1V198.7ZM327.1 198.7V167.9H330.2V198.7ZM330.2 198.7V157.9H334.9V198.7ZM334.9 198.7V149.7H338.2V198.7ZM338.2 198.7V153.2H340.2V198.7ZM340.2 198.7V151.5H343V198.7ZM343 198.7V163.9H344.2V198.7ZM344.2 198.7V174.6H349.1V198.7ZM349.1 198.7V177.5H359.8V198.7ZM359.8 198.7V180.3H363.8V198.7ZM363.8 198.7V185.3H365.8V198.7ZM365.8 198.7V183.1H368.4V198.7ZM368.4 198.7V179.6H371.7V198.7ZM371.7 198.7V184.3H374.1V198.7ZM374.1 198.7V178.2H377.4V198.7ZM377.4 198.7V177H381.2V198.7ZM381.2 198.7V186.7H383.3V198.7ZM383.3 198.7V172H386.2V198.7ZM386.2 198.7V180.3H387.6V198.7ZM387.6 198.7V167.5H390.5V198.7ZM390.5 198.7V158.2H392.6V198.7ZM392.6 198.7V139.7H395.4V198.7ZM395.4 198.7V132.6H398.3V198.7ZM398.3 198.7V114.3H402.3V198.7ZM402.3 198.7V120.5H404.3V198.7ZM404.3 198.7V124.7H406.1V198.7ZM406.1 198.7V132.6H408.3V198.7ZM408.3 198.7V87H411.5V198.7ZM411.5 198.7V123.3H413.7V198.7ZM413.7 198.7V89.1H416.8V198.7ZM416.8 198.7V98.7H419.4V198.7ZM419.4 198.7V91H421.8V198.7ZM421.8 198.7V103.4H423.2V198.7ZM423.2 198.7V112.6H425.1V198.7ZM425.1 198.7V71.6H427.9V198.7ZM427.9 198.7V96.3H429.6V198.7ZM429.6 198.7V80.9H432.8V198.7ZM432.8 198.7V94.1H434.2V198.7ZM434.2 198.7V89.1H437V198.7ZM437 198.7V80.9H440.3V198.7ZM440.3 198.7V72.5H443.2V198.7ZM443.2 198.7V120.5H445.3V198.7ZM445.3 198.7V110.9H448.4V198.7ZM448.4 198.7V136.1H451V198.7ZM451 198.7V130.4H454.3V198.7ZM454.3 198.7V145.4H456.3V198.7ZM456.3 198.7V142.8H458.1V198.7ZM458.1 198.7V138.6H461V198.7ZM461 198.7V157.5H462.4V198.7ZM462.4 198.7V114.1H463.1V198.7ZM463.1 198.7V75.3H466.2V198.7ZM466.2 198.7V51.4H469.5V198.7ZM469.5 198.7V67.1H470.9V198.7ZM470.9 198.7V99.1H472.8V198.7ZM472.8 198.7V114.1H474.8V198.7ZM474.8 198.7V193.1H475.6V198.7Z"/>
<path d="M365.5 186V191.7M371.2 184.6V191M450.6 137.6V150.4M461.7 140.4V157.5" stroke="#fff" stroke-width="0.6" stroke-opacity="0.75" fill="none"/>
<path class="ax" d="M129.4 45.3V204.4H487.4"/>
<path class="ax" d="M129.4 62.5h-4.7M129.4 89.6h-4.7M129.4 116.9h-4.7M129.4 144.3h-4.7M129.4 171.3h-4.7M129.4 198.4h-4.7M487.4 73.2V198.4M487.4 73.2h4.7M487.4 115.1h4.7M487.4 156.8h4.7M487.4 198.4h4.7M370.5 204.4v4.7"/>
<text class="kr" x="119.4" y="65">250</text>
<text class="kr" x="119.4" y="92.1">200</text>
<text class="kr" x="119.4" y="119.4">150</text>
<text class="kr" x="119.4" y="146.8">100</text>
<text class="kr" x="119.4" y="173.8">50</text>
<text class="kr" x="119.4" y="200.9">0</text>
<text class="km" transform="translate(502.4,73.2) rotate(-90)">15000</text>
<text class="km" transform="translate(502.4,115.1) rotate(-90)">10000</text>
<text class="km" transform="translate(502.4,156.8) rotate(-90)">5000</text>
<text class="km" transform="translate(502.4,198.4) rotate(-90)">0</text>
<text class="km" x="370" y="219.5">2021</text>
<text class="rl" x="396.2" y="156.1" textLength="15.2" lengthAdjust="spacingAndGlyphs">4397</text>
<text class="rl" x="423.4" y="119.8" textLength="15.1" lengthAdjust="spacingAndGlyphs">8787</text>
<text class="rl" x="473.6" y="46.1" textLength="17.6" lengthAdjust="spacingAndGlyphs">17601</text>
<polyline class="c" points="142.5,198.4 144,198.3 145.5,198.2 147,198.1 148.5,198 150,197.9 151.5,197.8 153,197.7 154.5,197.7 156,197.6 157.5,197.5 159,197.5 160.5,197.4 162,197.4 163.5,197.4 165,197.4 166.5,197.3 168,197.3 169.5,197.3 171,197.3 172.5,197.3 174,197.3 175.5,197.3 177,197.2 178.5,197.2 180,197.2 181.5,197.2 183,197.2 184.5,197.2 186,197.2 187.5,197.2 189,197.2 190.5,197.1 192,197.1 193.5,197.1 195,197.1 196.5,197.1 198,197.1 199.5,197.1 201,197.1 202.5,197.1 204,197.1 205.5,197.1 207,197.1 208.5,197.1 210,197.1 211.5,197.1 213,197.1 214.5,197.1 216,197.1 217.5,197.1 219,197.1 220.5,197.1 222,197.1 223.5,197.1 225,197.1 226.5,197.1 228,197.1 229.5,197.1 231,197.1 232.5,197.1 234,197.1 235.5,197.1 237,197.1 238.5,197.1 240,197.1 241.5,197.1 243,197.1 244.5,197.1 246,197.1 247.5,197.1 249,197.1 250.5,197.1 252,197.1 253.5,197 255,197 256.5,196.9 258,196.9 259.5,196.8 261,196.8 262.5,196.7 264,196.6 265.5,196.6 267,196.5 268.5,196.4 270,196.4 271.5,196.3 273,196.3 274.5,196.2 276,196.2 277.5,196.2 279,196.1 280.5,196.1 282,196 283.5,196 285,195.9 286.5,195.9 288,195.8 289.5,195.7 291,195.7 292.5,195.6 294,195.5 295.5,195.4 297,195.3 298.5,195.2 300,195.1 301.5,195 303,194.8 304.5,194.7 306,194.5 307.5,194.3 309,194.1 310.5,193.9 312,193.8 313.5,193.6 315,193.4 316.5,193.2 318,193 319.5,192.8 321,192.5 322.5,192.2 324,191.8 325.5,191.3 327,190.8 328.5,190.2 330,189.5 331.5,188.5 333,187 334.5,185.5 336,184 337.5,182.8 339,181.8 340.5,180.8 342,179.9 343.5,179.2 345,178.5 346.5,178 348,177.5 349.5,177 351,176.5 352.5,176.1 354,175.6 355.5,175.1 357,174.7 358.5,174.2 360,173.8 361.5,173.4 363,173.1 364.5,172.8 366,172.5 367.5,172.2 369,171.9 370.5,171.6 372,171.3 373.5,170.9 375,170.5 376.5,170.1 378,169.8 379.5,169.4 381,169.1 382.5,168.8 384,168.5 385.5,168.2 387,167.9 388.5,167.4 390,166.8 391.5,166 393,165 394.5,163.5 396,161.7 397.5,159.8 399,157.7 400.5,155.8 402,153.9 403.5,151.9 405,150 406.5,148 408,145.8 409.5,143.6 411,141.2 412.5,138.9 414,136.8 415.5,134.8 417,133 418.5,131.2 420,129.4 421.5,127.5 423,125.4 424.5,123 426,120.2 427.5,117.4 429,114.9 430.5,112.5 432,110.1 433.5,107.8 435,105.3 436.5,102.7 438,100 439.5,97.2 441,94.4 442.5,91.9 444,89.5 445.5,87.2 447,85.2 448.5,83.4 450,81.7 451.5,80.1 453,78.6 454.5,77.2 456,75.9 457.5,74.7 459,73.6 460.5,72.7 462,71.7 463.5,70 465,66.5 466.5,62.4 468,59.1 469.5,56.1 471,53.9 472.5,52.3 473.8,51.4"/>
</g>
<g transform="translate(0,771)">
<text class="t" x="307.6" y="33.6" textLength="87.2" lengthAdjust="spacingAndGlyphs">Στερεά Ελλάδα</text>
<text class="km" transform="translate(100,124.8) rotate(-90)" textLength="90.5" lengthAdjust="spacingAndGlyphs">Αριθμός νέων κρουσμάτων</text>
<path class="b" d="M160.6 198.7V181H163.9V198.7ZM166.7 198.7V187.1H169.9V198.7ZM212.6 198.7V194.8H216.2V198.7ZM234.7 198.7V193.1H237.9V198.7ZM263.9 198.7V194.5H268.1V198.7ZM278.5 198.7V191.3H281V198.7ZM281 198.7V190.3H284.1V198.7ZM290.9 198.7V192.4H301V198.7ZM301 198.7V192.4H302.1V198.7ZM302.1 198.7V185H305.7V198.7ZM305.7 198.7V188.6H307.8V198.7ZM307.8 198.7V188.1H311.1V198.7ZM311.1 198.7V178.2H313.1V198.7ZM313.1 198.7V175.3H315.7V198.7ZM315.7 198.7V184.6H317.8V198.7ZM317.8 198.7V183.1H320.9V198.7ZM320.9 198.7V186H323.5V198.7ZM323.5 198.7V177.5H324.9V198.7ZM324.9 198.7V160.6H328.2V198.7ZM328.2 198.7V134.3H331.6V198.7ZM331.6 198.7V149H333.5V198.7ZM333.5 198.7V154.7H336.8V198.7ZM336.8 198.7V157.5H339.2V198.7ZM339.2 198.7V150.1H342.3V198.7ZM342.3 198.7V164.6H344.4V198.7ZM344.4 198.7V161.1H347V198.7ZM347 198.7V150.1H350.6V198.7ZM350.6 198.7V148H353.7V198.7ZM353.7 198.7V176H358.4V198.7ZM358.4 198.7V183.1H360.5V198.7ZM360.5 198.7V171.8H365.5V198.7ZM365.5 198.7V173.9H368.4V198.7ZM368.4 198.7V181.7H370.8V198.7ZM370.8 198.7V153.9H373.4V198.7ZM373.4 198.7V148.5H376.2V198.7ZM376.2 198.7V159.6H379.1V198.7ZM379.1 198.7V171.8H381.2V198.7ZM381.2 198.7V178.2H384V198.7ZM384 198.7V158.9H387.6V198.7ZM387.6 198.7V136.4H390.7V198.7ZM390.7 198.7V156.1H392.3V198.7ZM392.3 198.7V129H394.7V198.7ZM394.7 198.7V126.2H397.6V198.7ZM397.6 198.7V110.9H400.4V198.7ZM400.4 198.7V134.3H403.7V198.7ZM403.7 198.7V143.3H405.4V198.7ZM405.4 198.7V141.1H408.3V198.7ZM408.3 198.7V121.2H411.1V198.7ZM411.1 198.7V123H413.2V198.7ZM413.2 198.7V117.6H414.7V198.7ZM414.7 198.7V106.2H416.5V198.7ZM416.5 198.7V88.1H418.9V198.7ZM418.9 198.7V83.4H421.8V198.7ZM421.8 198.7V84.1H425.1V198.7ZM425.1 198.7V51.4H427.8V198.7ZM427.8 198.7V104.1H429.6V198.7ZM429.6 198.7V71.3H432.2V198.7ZM432.2 198.7V103.4H434.6V198.7ZM434.6 198.7V52.1H437.7V198.7ZM437.7 198.7V96.3H440.3V198.7ZM440.3 198.7V78.9H442.9V198.7ZM442.9 198.7V113.3H445.3V198.7ZM445.3 198.7V91.3H448.1V198.7ZM448.1 198.7V111.6H450.3V198.7ZM450.3 198.7V69.6H453.6V198.7ZM453.6 198.7V112.6H456V198.7ZM456 198.7V87.3H458.5V198.7ZM458.5 198.7V124.3H461V198.7ZM461 198.7V133.3H462.4V198.7ZM462.4 198.7V86.6H465.5V198.7ZM465.5 198.7V80.3H469.2V198.7ZM469.2 198.7V123H471.9V198.7ZM471.9 198.7V126.9H474.8V198.7ZM474.8 198.7V190.3H475.6V198.7Z"/>
<path d="M365.5 183.1V193.1M403.7 146.1V167.5M424.6 86.3V137.6M461.7 134.7V157.5M328.5 163.2V177.5" stroke="#fff" stroke-width="0.6" stroke-opacity="0.75" fill="none"/>
<path class="ax" d="M129.4 45.3V204.4H487.4"/>
<path class="ax" d="M129.4 46.7h-4.7M129.4 84.6h-4.7M129.4 122.6h-4.7M129.4 160.6h-4.7M129.4 198.4h-4.7M487.4 60.4V198.4M487.4 60.4h4.7M487.4 83.4h4.7M487.4 106.5h4.7M487.4 129.4h4.7M487.4 152.5h4.7M487.4 175.6h4.7M487.4 198.4h4.7M369.8 204.4v4.7"/>
<text class="kr" x="119.4" y="49.2">200</text>
<text class="kr" x="119.4" y="87.1">150</text>
<text class="kr" x="119.4" y="125.1">100</text>
<text class="kr" x="119.4" y="163.1">50</text>
<text class="kr" x="119.4" y="200.9">0</text>
<text class="km" transform="translate(502.4,60.4) rotate(-90)">12000</text>
<text class="km" transform="translate(502.4,83.4) rotate(-90)"></text>
<text class="km" transform="translate(502.4,106.5) rotate(-90)">8000</text>
<text class="km" transform="translate(502.4,129.4) rotate(-90)"></text>
<text class="km" transform="translate(502.4,152.5) rotate(-90)">4000</text>
<text class="km" transform="translate(502.4,175.6) rotate(-90)">2000</text>
<text class="km" transform="translate(502.4,198.4) rotate(-90)">0</text>
<text class="km" x="369.3" y="219.5">2021</text>
<text class="rl" x="384.6" y="156.8" textLength="14.7" lengthAdjust="spacingAndGlyphs">3186</text>
<text class="rl" x="421.1" y="119.5" textLength="15.8" lengthAdjust="spacingAndGlyphs">6423</text>
<text class="rl" x="473.6" y="46.1" textLength="19.2" lengthAdjust="spacingAndGlyphs">12800</text>
<polyline class="c" points="142.5,198.4 144,198.4 145.5,198.4 147,198.4 148.5,198.4 150,198.4 151.5,198.4 153,198.3 154.5,198.3 156,198.3 157.5,198.3 159,198.3 160.5,198.2 162,198.1 163.5,197.9 165,197.6 166.5,197.4 168,197.2 169.5,197.1 171,197.1 172.5,197.1 174,197.1 175.5,197.1 177,197.1 178.5,197 180,197 181.5,197 183,197 184.5,197 186,197 187.5,197 189,197 190.5,197 192,197 193.5,197 195,197 196.5,197 198,197 199.5,197 201,197 202.5,197 204,197 205.5,197 207,197 208.5,197 210,196.9 211.5,196.9 213,196.9 214.5,196.9 216,196.9 217.5,196.9 219,196.9 220.5,196.9 222,196.9 223.5,196.9 225,196.9 226.5,196.9 228,196.8 229.5,196.8 231,196.8 232.5,196.8 234,196.8 235.5,196.8 237,196.8 238.5,196.8 240,196.8 241.5,196.7 243,196.7 244.5,196.7 246,196.7 247.5,196.7 249,196.7 250.5,196.7 252,196.6 253.5,196.6 255,196.6 256.5,196.5 258,196.5 259.5,196.5 261,196.4 262.5,196.4 264,196.4 265.5,196.3 267,196.3 268.5,196.2 270,196.2 271.5,196.1 273,196.1 274.5,196 276,196 277.5,195.9 279,195.9 280.5,195.8 282,195.8 283.5,195.7 285,195.6 286.5,195.5 288,195.4 289.5,195.3 291,195.3 292.5,195.2 294,195 295.5,194.9 297,194.8 298.5,194.7 300,194.5 301.5,194.4 303,194.3 304.5,194.3 306,194.2 307.5,194.1 309,193.9 310.5,193.8 312,193.5 313.5,193.3 315,192.9 316.5,192.6 318,192.2 319.5,191.9 321,191.6 322.5,191.2 324,190.8 325.5,190.3 327,189.5 328.5,188.3 330,186.9 331.5,185.6 333,184.4 334.5,183.4 336,182.5 337.5,181.7 339,180.8 340.5,179.9 342,179.1 343.5,178.3 345,177.4 346.5,176.6 348,175.7 349.5,174.7 351,173.8 352.5,173 354,172.4 355.5,171.9 357,171.5 358.5,171.1 360,170.7 361.5,170.3 363,169.9 364.5,169.5 366,169.2 367.5,168.9 369,168.4 370.5,167.9 372,167.2 373.5,166.4 375,165.6 376.5,164.8 378,164.1 379.5,163.5 381,163 382.5,162.6 384,162 385.5,161.4 387,160.6 388.5,159.7 390,158.8 391.5,157.7 393,156.4 394.5,154.7 396,152.7 397.5,150.5 399,148.4 400.5,146.7 402,145.5 403.5,144.6 405,143.8 406.5,143 408,142 409.5,140.7 411,139 412.5,137.2 414,135.2 415.5,133.1 417,131.1 418.5,128.9 420,126.6 421.5,124 423,120.8 424.5,118.2 426,116.2 427.5,114.5 429,112.7 430.5,110.7 432,108.5 433.5,106.2 435,103.9 436.5,101.5 438,99.2 439.5,96.7 441,94.3 442.5,91.9 444,89.5 445.5,87 447,84.6 448.5,82.1 450,79.6 451.5,77 453,74.6 454.5,72.6 456,70.8 457.5,69.1 459,67.6 460.5,66.2 462,65 463.5,63.8 465,62.2 466.5,59.8 468,57.1 469.5,55 471,53.4 472.5,52.2 473.8,51.4"/>
</g>
<g transform="translate(415.9,771)">
<text class="t" x="308" y="33.6" textLength="81.3" lengthAdjust="spacingAndGlyphs">Βόρειο Αιγαίο</text>
<path class="b" d="M156 198.7V194.5H159.2V198.7ZM224 198.7V194.8H226.8V198.7ZM238.2 198.7V194.5H241.1V198.7ZM248.2 198.7V193.4H251.1V198.7ZM255.3 198.7V175.3H258.9V198.7ZM260.3 198.7V191H262.9V198.7ZM263.9 198.7V187.1H266V198.7ZM266 198.7V180.3H268.1V198.7ZM268.1 198.7V179.2H270.3V198.7ZM270.3 198.7V174.2H273.4V198.7ZM273.4 198.7V188.8H275.3V198.7ZM275.3 198.7V187.4H277.4V198.7ZM277.4 198.7V154.7H281V198.7ZM281 198.7V182H284.5V198.7ZM284.5 198.7V175.3H286V198.7ZM286 198.7V141.8H287.4V198.7ZM287.4 198.7V106.9H288.5V198.7ZM288.5 198.7V51.4H291.7V198.7ZM291.7 198.7V187.4H294.5V198.7ZM294.5 198.7V178.9H297.4V198.7ZM297.4 198.7V184.6H300.9V198.7ZM300.9 198.7V181.7H301V198.7ZM301 198.7V184.6H301.4V198.7ZM301.4 198.7V181.7H305.7V198.7ZM305.7 198.7V189.6H307.8V198.7ZM307.8 198.7V187.1H311.1V198.7ZM311.1 198.7V180.3H314.2V198.7ZM314.2 198.7V183.1H315V198.7ZM315 198.7V135.4H318.1V198.7ZM318.1 198.7V148.2H320.7V198.7ZM320.7 198.7V163.2H323.1V198.7ZM323.1 198.7V136.6H326.4V198.7ZM326.4 198.7V149H328.2V198.7ZM328.2 198.7V144.4H330.6V198.7ZM330.6 198.7V143.3H333V198.7ZM333 198.7V130.2H336.3V198.7ZM336.3 198.7V156.1H338.5V198.7ZM338.5 198.7V149.7H341.7V198.7ZM341.7 198.7V158.2H344.2V198.7ZM344.2 198.7V154.7H347V198.7ZM347 198.7V162.5H349.1V198.7ZM349.1 198.7V148.2H352.3V198.7ZM352.3 198.7V159.6H354.8V198.7ZM354.8 198.7V149.7H357.7V198.7ZM357.7 198.7V174.3H361V198.7ZM361 198.7V181.7H362.7V198.7ZM362.7 198.7V174.3H365.1V198.7ZM365.1 198.7V165.1H368.1V198.7ZM368.1 198.7V180.3H370.2V198.7ZM370.2 198.7V174.3H373.4V198.7ZM373.4 198.7V160.1H376.9V198.7ZM376.9 198.7V168.2H378.8V198.7ZM378.8 198.7V183.1H380.5V198.7ZM380.5 198.7V188.1H385.5V198.7ZM385.5 198.7V191.7H386.5V198.7ZM386.5 198.7V168.9H388.3V198.7ZM388.3 198.7V160.1H391.2V198.7ZM391.2 198.7V177.5H393.3V198.7ZM393.3 198.7V184.3H395.4V198.7ZM395.4 198.7V187.4H397.6V198.7ZM397.6 198.7V191.7H399.7V198.7ZM399.7 198.7V191H401.4V198.7ZM401.4 198.7V184.6H403.3V198.7ZM403.3 198.7V179.3H405.4V198.7ZM405.4 198.7V176.5H408V198.7ZM408 198.7V164.2H410.8V198.7ZM410.8 198.7V161.1H413.2V198.7ZM413.2 198.7V154.7H417.9V198.7ZM417.9 198.7V139.3H421.5V198.7ZM421.5 198.7V160.4H424.4V198.7ZM424.4 198.7V151.1H427.5V198.7ZM427.5 198.7V156.1H429.2V198.7ZM429.2 198.7V151.1H432.1V198.7ZM432.1 198.7V164.6H434.6V198.7ZM434.6 198.7V155.1H437.5V198.7ZM437.5 198.7V142.1H440.7V198.7ZM440.7 198.7V160.4H442.9V198.7ZM442.9 198.7V164.3H444.9V198.7ZM444.9 198.7V169.3H448.1V198.7ZM448.1 198.7V175.3H451V198.7ZM451 198.7V183.1H453.1V198.7ZM453.1 198.7V180.6H456.4V198.7ZM456.4 198.7V183.9H458.1V198.7ZM458.1 198.7V178.2H461V198.7ZM461 198.7V174.3H463.1V198.7ZM463.1 198.7V170.3H466V198.7ZM466 198.7V175.3H467.8V198.7ZM467.8 198.7V152.1H470.9V198.7ZM470.9 198.7V157.5H472.6V198.7ZM472.6 198.7V169.2H474.8V198.7ZM474.8 198.7V189.6H475.6V198.7Z"/>
<path d="M320.7 150.4V177.5M338.2 157.5V168.9M369.8 181.7V191.7M366 167.5V183.1" stroke="#fff" stroke-width="0.6" stroke-opacity="0.75" fill="none"/>
<path class="ax" d="M129.4 45.3V204.4H487.4"/>
<path class="ax" d="M129.4 69.5h-4.7M129.4 95.3h-4.7M129.4 121.2h-4.7M129.4 146.8h-4.7M129.4 172.7h-4.7M129.4 198.4h-4.7M487.4 61.4V198.4M487.4 61.4h4.7M487.4 95.5h4.7M487.4 129.7h4.7M487.4 164.2h4.7M487.4 198.4h4.7M369.5 204.4v4.7"/>
<text class="kr" x="119.4" y="72">100</text>
<text class="kr" x="119.4" y="97.8">80</text>
<text class="kr" x="119.4" y="123.7">60</text>
<text class="kr" x="119.4" y="149.3">40</text>
<text class="kr" x="119.4" y="175.2">20</text>
<text class="kr" x="119.4" y="200.9">0</text>
<text class="km" transform="translate(502.4,61.4) rotate(-90)">4000</text>
<text class="km" transform="translate(502.4,95.5) rotate(-90)">3000</text>
<text class="km" transform="translate(502.4,129.7) rotate(-90)">2000</text>
<text class="km" transform="translate(502.4,164.2) rotate(-90)">1000</text>
<text class="km" transform="translate(502.4,198.4) rotate(-90)">0</text>
<text class="km" x="369" y="219.5">2021</text>
<text class="rl" x="324.5" y="156.1" textLength="14.6" lengthAdjust="spacingAndGlyphs">1075</text>
<text class="rl" x="355.7" y="119.8" textLength="14.7" lengthAdjust="spacingAndGlyphs">2143</text>
<text class="rl" x="473.5" y="46.1" textLength="16.2" lengthAdjust="spacingAndGlyphs">4285</text>
<polyline class="c" points="142.5,198.4 144,198.4 145.5,198.4 147,198.4 148.5,198.4 150,198.4 151.5,198.4 153,198.4 154.5,198.4 156,198.4 157.5,198.4 159,198.3 160.5,198.3 162,198.3 163.5,198.3 165,198.3 166.5,198.3 168,198.3 169.5,198.3 171,198.3 172.5,198.3 174,198.2 175.5,198.2 177,198.2 178.5,198.2 180,198.2 181.5,198.2 183,198.2 184.5,198.2 186,198.2 187.5,198.1 189,198.1 190.5,198.1 192,198.1 193.5,198.1 195,198.1 196.5,198.1 198,198 199.5,198 201,198 202.5,198 204,198 205.5,197.9 207,197.9 208.5,197.9 210,197.9 211.5,197.8 213,197.8 214.5,197.8 216,197.8 217.5,197.7 219,197.7 220.5,197.7 222,197.7 223.5,197.6 225,197.6 226.5,197.6 228,197.5 229.5,197.5 231,197.5 232.5,197.4 234,197.4 235.5,197.4 237,197.3 238.5,197.3 240,197.3 241.5,197.2 243,197.2 244.5,197.1 246,197.1 247.5,197 249,197 250.5,196.9 252,196.9 253.5,196.8 255,196.7 256.5,196.6 258,196.5 259.5,196.3 261,196.1 262.5,195.8 264,195.5 265.5,195.2 267,194.6 268.5,193.8 270,192.9 271.5,192.1 273,191.5 274.5,191 276,190.5 277.5,190.1 279,189.7 280.5,189.4 282,189.1 283.5,189 285,188.7 286.5,188.2 288,185.9 289.5,181.1 291,178.3 292.5,177.5 294,177.1 295.5,176.6 297,176.1 298.5,175.7 300,175.3 301.5,175 303,174.7 304.5,174.4 306,174.1 307.5,173.8 309,173.4 310.5,172.9 312,172.4 313.5,171.8 315,171 316.5,170 318,168.6 319.5,167.2 321,165.7 322.5,164 324,162.1 325.5,160.1 327,157.7 328.5,155.3 330,153 331.5,150.7 333,148.4 334.5,146.4 336,144.6 337.5,142.9 339,141.3 340.5,139.8 342,138.3 343.5,136.9 345,135.6 346.5,134.3 348,133 349.5,131.5 351,129.9 352.5,128.2 354,126.6 355.5,125.2 357,123.9 358.5,122.7 360,121.8 361.5,121.1 363,120.5 364.5,120 366,119.4 367.5,118.8 369,118.2 370.5,117.5 372,116.8 373.5,116 375,115.1 376.5,114.2 378,113.5 379.5,113 381,112.7 382.5,112.4 384,112 385.5,111.6 387,111 388.5,110.1 390,109.3 391.5,108.7 393,108.2 394.5,107.8 396,107.5 397.5,107.1 399,106.8 400.5,106.5 402,106.2 403.5,105.9 405,105.6 406.5,105.2 408,104.6 409.5,103.8 411,102.8 412.5,101.7 414,100.5 415.5,99.1 417,97.5 418.5,95.8 420,94 421.5,92.2 423,90.2 424.5,88.1 426,86.1 427.5,84.2 429,82.6 430.5,81.2 432,80 433.5,78.7 435,77.3 436.5,75.8 438,74 439.5,72.2 441,70.5 442.5,69.1 444,68 445.5,66.9 447,66 448.5,65.2 450,64.4 451.5,63.8 453,63.3 454.5,62.8 456,62.3 457.5,61.8 459,61.4 460.5,61 462,60.5 463.5,59.8 465,58.8 466.5,57.6 468,56.4 469.5,55.2 471,53.9 472.5,52.6 473.8,51.4"/>
</g>
<g transform="translate(831.8,771)">
<text class="t" x="308.3" y="33.6" textLength="75.6" lengthAdjust="spacingAndGlyphs">Νότιο Αιγαίο</text>
<path class="b" d="M154.2 198.7V195.7H157.3V198.7ZM159.2 198.7V195.7H162V198.7ZM219 198.7V194.5H222.6V198.7ZM222.6 198.7V194.3H225.1V198.7ZM225.1 198.7V192.4H228V198.7ZM241.1 198.7V192.4H244.6V198.7ZM244.6 198.7V194.5H246.8V198.7ZM246.8 198.7V189.6H249.6V198.7ZM249.6 198.7V180.3H252.8V198.7ZM252.8 198.7V184.6H254.6V198.7ZM254.6 198.7V172.9H257V198.7ZM257 198.7V167.2H259.3V198.7ZM259.3 198.7V160.6H262.2V198.7ZM262.2 198.7V167.2H265V198.7ZM265 198.7V176H267.4V198.7ZM267.4 198.7V176.7H269.6V198.7ZM269.6 198.7V183.9H271.7V198.7ZM271.7 198.7V177.2H274.8V198.7ZM274.8 198.7V184.6H277.4V198.7ZM277.4 198.7V183.4H280.3V198.7ZM280.3 198.7V182H281.7V198.7ZM281.7 198.7V171.3H284.8V198.7ZM284.8 198.7V181.7H286.7V198.7ZM286.7 198.7V177.2H289.5V198.7ZM289.5 198.7V174.3H292.4V198.7ZM292.4 198.7V172.9H295.6V198.7ZM295.6 198.7V177.5H299.5V198.7ZM299.5 198.7V172.9H301V198.7ZM301 198.7V172.9H304.3V198.7ZM304.3 198.7V168.2H307.1V198.7ZM307.1 198.7V173.2H309.3V198.7ZM309.3 198.7V168.2H312.8V198.7ZM312.8 198.7V160.6H316V198.7ZM316 198.7V166.8H321.4V198.7ZM321.4 198.7V157.8H324.5V198.7ZM324.5 198.7V170.3H327.8V198.7ZM327.8 198.7V175.3H329.9V198.7ZM329.9 198.7V136.4H333V198.7ZM333 198.7V171.8H334.9V198.7ZM334.9 198.7V174.6H338.5V198.7ZM338.5 198.7V177.5H341.6V198.7ZM341.6 198.7V180.3H346.3V198.7ZM346.3 198.7V167.1H349.4V198.7ZM349.4 198.7V177.5H350.9V198.7ZM350.9 198.7V192.4H354.8V198.7ZM354.8 198.7V186.4H358V198.7ZM358 198.7V188.8H361.3V198.7ZM361.3 198.7V182.4H363V198.7ZM363 198.7V176H367V198.7ZM367 198.7V189.6H369.1V198.7ZM369.1 198.7V182.4H372.2V198.7ZM372.2 198.7V186H374.1V198.7ZM374.1 198.7V183.9H376.9V198.7ZM376.9 198.7V192.4H379.8V198.7ZM379.8 198.7V183.4H383V198.7ZM383 198.7V190.3H384.8V198.7ZM384.8 198.7V177H388.3V198.7ZM388.3 198.7V172.9H393.3V198.7ZM393.3 198.7V159.4H396.4V198.7ZM396.4 198.7V170.3H397.6V198.7ZM397.6 198.7V159.4H400.1V198.7ZM400.1 198.7V161.1H402.6V198.7ZM402.6 198.7V160.6H406.1V198.7ZM406.1 198.7V129H408.7V198.7ZM408.7 198.7V121.5H411.8V198.7ZM411.8 198.7V145.4H413.2V198.7ZM413.2 198.7V159.4H416.8V198.7ZM416.8 198.7V162.2H419.4V198.7ZM419.4 198.7V144.7H420.8V198.7ZM420.8 198.7V136.4H423.5V198.7ZM423.5 198.7V132.3H428.2V198.7ZM428.2 198.7V107.6H431.1V198.7ZM431.1 198.7V126.2H433.2V198.7ZM433.2 198.7V129.7H435.3V198.7ZM435.3 198.7V119H436.8V198.7ZM436.8 198.7V94.1H439.3V198.7ZM439.3 198.7V51.4H442V198.7ZM442 198.7V104.8H444.3V198.7ZM444.3 198.7V135.4H445.3V198.7ZM445.3 198.7V131.9H447.2V198.7ZM447.2 198.7V124.3H449.6V198.7ZM449.6 198.7V135.4H451.7V198.7ZM451.7 198.7V133.3H455.7V198.7ZM455.7 198.7V153.9H457.4V198.7ZM457.4 198.7V124.3H461V198.7ZM461 198.7V116.9H461.7V198.7ZM461.7 198.7V92.4H464.8V198.7ZM464.8 198.7V101.2H466.2V198.7ZM466.2 198.7V54.2H469.5V198.7ZM469.5 198.7V106.2H471.9V198.7ZM471.9 198.7V120H474.8V198.7ZM474.8 198.7V190.3H475.6V198.7Z"/>
<path d="M401.9 161.8V171.8M423.5 134.7V180.3M449.6 137.6V147.5M460.7 126.2V146.1M472.4 121.9V129" stroke="#fff" stroke-width="0.6" stroke-opacity="0.75" fill="none"/>
<path class="ax" d="M129.4 45.3V204.4H487.4"/>
<path class="ax" d="M129.4 46.7h-4.7M129.4 77.3h-4.7M129.4 107.6h-4.7M129.4 137.8h-4.7M129.4 168.5h-4.7M129.4 198.4h-4.7M487.4 64.5V198.4M487.4 64.5h4.7M487.4 91.3h4.7M487.4 118h4.7M487.4 144.7h4.7M487.4 171.5h4.7M487.4 198.4h4.7M367.4 204.4v4.7"/>
<text class="kr" x="119.4" y="49.2">100</text>
<text class="kr" x="119.4" y="79.8">80</text>
<text class="kr" x="119.4" y="110.1">60</text>
<text class="kr" x="119.4" y="140.3">40</text>
<text class="kr" x="119.4" y="171">20</text>
<text class="kr" x="119.4" y="200.9">0</text>
<text class="km" transform="translate(502.4,64.5) rotate(-90)">5000</text>
<text class="km" transform="translate(502.4,91.3) rotate(-90)">4000</text>
<text class="km" transform="translate(502.4,118) rotate(-90)">3000</text>
<text class="km" transform="translate(502.4,144.7) rotate(-90)">2000</text>
<text class="km" transform="translate(502.4,171.5) rotate(-90)">1000</text>
<text class="km" transform="translate(502.4,198.4) rotate(-90)">0</text>
<text class="km" x="366.9" y="219.5">2021</text>
<text class="rl" x="332.1" y="155.8" textLength="14.7" lengthAdjust="spacingAndGlyphs">1380</text>
<text class="rl" x="420.4" y="120" textLength="15.2" lengthAdjust="spacingAndGlyphs">2739</text>
<text class="rl" x="473.6" y="46.1" textLength="16.2" lengthAdjust="spacingAndGlyphs">5488</text>
<polyline class="c" points="142.5,198.4 144,198.4 145.5,198.4 147,198.4 148.5,198.4 150,198.4 151.5,198.4 153,198.4 154.5,198.4 156,198.4 157.5,198.4 159,198.4 160.5,198.4 162,198.4 163.5,198.4 165,198.4 166.5,198.4 168,198.3 169.5,198.3 171,198.3 172.5,198.3 174,198.3 175.5,198.3 177,198.3 178.5,198.3 180,198.3 181.5,198.3 183,198.3 184.5,198.3 186,198.3 187.5,198.3 189,198.3 190.5,198.3 192,198.2 193.5,198.2 195,198.2 196.5,198.2 198,198.2 199.5,198.2 201,198.2 202.5,198.1 204,198.1 205.5,198.1 207,198.1 208.5,198 210,198 211.5,198 213,198 214.5,197.9 216,197.9 217.5,197.9 219,197.8 220.5,197.8 222,197.8 223.5,197.7 225,197.7 226.5,197.7 228,197.6 229.5,197.6 231,197.6 232.5,197.5 234,197.5 235.5,197.4 237,197.3 238.5,197.3 240,197.2 241.5,197.1 243,196.9 244.5,196.8 246,196.5 247.5,196.2 249,195.9 250.5,195.5 252,195.1 253.5,194.7 255,194.1 256.5,193.3 258,192.3 259.5,191.2 261,190.3 262.5,189.5 264,189 265.5,188.5 267,188 268.5,187.7 270,187.3 271.5,187.1 273,186.9 274.5,186.7 276,186.4 277.5,186.1 279,185.6 280.5,185.1 282,184.5 283.5,184 285,183.5 286.5,183 288,182.6 289.5,182.2 291,181.7 292.5,181.3 294,180.8 295.5,180.4 297,179.9 298.5,179.4 300,178.9 301.5,178.3 303,177.8 304.5,177.2 306,176.5 307.5,175.8 309,175.1 310.5,174.2 312,173.2 313.5,172.1 315,171.1 316.5,170 318,169 319.5,168 321,166.9 322.5,165.9 324,164.9 325.5,164 327,163.2 328.5,162.4 330,161.7 331.5,161 333,160.4 334.5,159.7 336,159 337.5,158.4 339,157.8 340.5,157.3 342,156.8 343.5,156.3 345,155.9 346.5,155.5 348,155.2 349.5,154.9 351,154.7 352.5,154.5 354,154.4 355.5,154.2 357,153.9 358.5,153.6 360,153.3 361.5,152.8 363,152.4 364.5,152 366,151.7 367.5,151.4 369,151.2 370.5,150.9 372,150.7 373.5,150.5 375,150.3 376.5,150.1 378,149.9 379.5,149.8 381,149.6 382.5,149.4 384,149.2 385.5,149 387,148.6 388.5,148 390,147.4 391.5,146.6 393,145.9 394.5,145.2 396,144.4 397.5,143.6 399,142.8 400.5,141.8 402,140.8 403.5,139.6 405,138.1 406.5,136.5 408,134.9 409.5,133.4 411,132.3 412.5,131.2 414,130.3 415.5,129.3 417,128.1 418.5,126.9 420,125.6 421.5,124.6 423,123.7 424.5,122.5 426,120.6 427.5,118.5 429,116.7 430.5,115 432,113.4 433.5,111.6 435,109.6 436.5,106.9 438,103.5 439.5,99.7 441,96.2 442.5,93.3 444,91.2 445.5,89.3 447,87.6 448.5,85.9 450,84.1 451.5,82.4 453,80.8 454.5,79.2 456,77.8 457.5,76.5 459,75 460.5,73.4 462,71.1 463.5,68.1 465,64.7 466.5,61.6 468,58.9 469.5,56.3 471,54.1 472.5,52.5 473.8,51.4"/>
</g>
<g transform="translate(0,1028)">
<text class="t" x="306.4" y="33.6" textLength="69" lengthAdjust="spacingAndGlyphs">Ιόνια Νησιά</text>
<text class="km" transform="translate(100,124.8) rotate(-90)" textLength="90.5" lengthAdjust="spacingAndGlyphs">Αριθμός νέων κρουσμάτων</text>
<path class="b" d="M141.1 198.7V188.1H143.9V198.7ZM234.7 198.7V193.4H237.5V198.7ZM237.5 198.7V190.7H240.8V198.7ZM240.8 198.7V193.1H244.2V198.7ZM244.2 198.7V185.6H247.5V198.7ZM247.5 198.7V188.1H250.3V198.7ZM250.3 198.7V175.3H253.9V198.7ZM253.9 198.7V177.9H256.5V198.7ZM256.5 198.7V172.5H259.6V198.7ZM259.6 198.7V178.2H261V198.7ZM261 198.7V188.1H263.2V198.7ZM263.2 198.7V177.7H266.4V198.7ZM266.4 198.7V180.3H268.9V198.7ZM268.9 198.7V167.2H271.7V198.7ZM271.7 198.7V177.9H276V198.7ZM276 198.7V172.5H279.3V198.7ZM279.3 198.7V183.1H281.7V198.7ZM281.7 198.7V180.3H284.5V198.7ZM284.5 198.7V164.6H287.8V198.7ZM287.8 198.7V187.4H291.7V198.7ZM291.7 198.7V172.5H295.9V198.7ZM295.9 198.7V175.3H298.1V198.7ZM298.1 198.7V183.1H300.2V198.7ZM300.2 198.7V175.3H301V198.7ZM301 198.7V175.3H304V198.7ZM304 198.7V183.1H306.4V198.7ZM306.4 198.7V178.2H309.7V198.7ZM309.7 198.7V185.3H312.8V198.7ZM312.8 198.7V169.9H316V198.7ZM316 198.7V164.6H319.7V198.7ZM319.7 198.7V172.5H321.1V198.7ZM321.1 198.7V162.2H324.2V198.7ZM324.2 198.7V168.9H325.6V198.7ZM325.6 198.7V143.5H328.5V198.7ZM328.5 198.7V150.1H331.3V198.7ZM331.3 198.7V153.9H334.2V198.7ZM334.2 198.7V140.7H336.3V198.7ZM336.3 198.7V135.9H339.2V198.7ZM339.2 198.7V175.3H340.3V198.7ZM340.3 198.7V175.3H342.7V198.7ZM342.7 198.7V156.5H345.9V198.7ZM345.9 198.7V180.3H348.1V198.7ZM348.1 198.7V188.1H350.1V198.7ZM350.1 198.7V191H353.4V198.7ZM353.4 198.7V196H357V198.7ZM357 198.7V183.1H360.5V198.7ZM360.5 198.7V188.1H361.3V198.7ZM361.3 198.7V172.5H364.1V198.7ZM364.1 198.7V175.3H365.8V198.7ZM365.8 198.7V192.4H366.7V198.7ZM366.7 198.7V183.1H369.1V198.7ZM369.1 198.7V180.3H374.8V198.7ZM374.8 198.7V196H379.1V198.7ZM379.1 198.7V193.4H382.6V198.7ZM384.8 198.7V183.1H388.3V198.7ZM388.3 198.7V180.3H391.5V198.7ZM391.5 198.7V190.3H393.3V198.7ZM393.3 198.7V183.1H394.7V198.7ZM394.7 198.7V169.9H399.7V198.7ZM399.7 198.7V156.5H401.4V198.7ZM401.4 198.7V141.1H403.3V198.7ZM403.3 198.7V163.2H406.1V198.7ZM406.1 198.7V137.6H409V198.7ZM409 198.7V111.9H411.8V198.7ZM411.8 198.7V129H414.7V198.7ZM414.7 198.7V149H416.1V198.7ZM416.1 198.7V143.5H418.9V198.7ZM418.9 198.7V146.4H422.5V198.7ZM422.5 198.7V159.6H426.1V198.7ZM426.1 198.7V140.4H427.2V198.7ZM427.2 198.7V128H431.1V198.7ZM431.1 198.7V99.1H434.6V198.7ZM434.6 198.7V80.6H438.2V198.7ZM438.2 198.7V111.9H440.3V198.7ZM440.3 198.7V104.4H443.6V198.7ZM443.6 198.7V140.4H446V198.7ZM446 198.7V130.7H448.9V198.7ZM448.9 198.7V148.2H451V198.7ZM451 198.7V146.1H453.8V198.7ZM453.8 198.7V143.3H456.3V198.7ZM456.3 198.7V138.3H459.3V198.7ZM459.3 198.7V160.4H461V198.7ZM461 198.7V175.3H463.1V198.7ZM463.1 198.7V83.4H466.2V198.7ZM466.2 198.7V129H467V198.7ZM467 198.7V51.4H469.9V198.7ZM469.9 198.7V109.1H472.4V198.7ZM472.4 198.7V88.4H475.2V198.7ZM475.2 198.7V191.7H475.6V198.7Z"/>
<path d="M304.6 177.5V187.4M320.7 171.8V180.3M434.2 102V134.7M445.3 143.3V163.2M454.6 147.5V163.2M371.2 181.7V191.7M473.1 92V163.2" stroke="#fff" stroke-width="0.6" stroke-opacity="0.75" fill="none"/>
<path class="ax" d="M129.4 45.3V204.4H487.4"/>
<path class="ax" d="M129.4 67.5h-4.7M129.4 93.4h-4.7M129.4 119.8h-4.7M129.4 145.8h-4.7M129.4 172.5h-4.7M129.4 198.4h-4.7M487.4 65.6V198.4M487.4 65.6h4.7M487.4 92.4h4.7M487.4 118.8h4.7M487.4 145.4h4.7M487.4 172h4.7M487.4 198.4h4.7M370.8 204.4v4.7"/>
<text class="kr" x="119.4" y="70">50</text>
<text class="kr" x="119.4" y="95.9">40</text>
<text class="kr" x="119.4" y="122.3">30</text>
<text class="kr" x="119.4" y="148.3">20</text>
<text class="kr" x="119.4" y="175">10</text>
<text class="kr" x="119.4" y="200.9">0</text>
<text class="km" transform="translate(502.4,65.6) rotate(-90)">2500</text>
<text class="km" transform="translate(502.4,92.4) rotate(-90)">2000</text>
<text class="km" transform="translate(502.4,118.8) rotate(-90)">1500</text>
<text class="km" transform="translate(502.4,145.4) rotate(-90)">1000</text>
<text class="km" transform="translate(502.4,172) rotate(-90)">500</text>
<text class="km" transform="translate(502.4,198.4) rotate(-90)">0</text>
<text class="km" x="370.3" y="219.5">2021</text>
<text class="rl" x="332.6" y="156.5" textLength="11.6" lengthAdjust="spacingAndGlyphs">697</text>
<text class="rl" x="415.8" y="119" textLength="14.7" lengthAdjust="spacingAndGlyphs">1388</text>
<text class="rl" x="473.6" y="46.1" textLength="15.6" lengthAdjust="spacingAndGlyphs">2764</text>
<polyline class="c" points="142.5,198.4 144,198.4 145.5,198.4 147,198.4 148.5,198.4 150,198.4 151.5,198.4 153,198.4 154.5,198.4 156,198.4 157.5,198.4 159,198.4 160.5,198.4 162,198.4 163.5,198.4 165,198.4 166.5,198.4 168,198.3 169.5,198.3 171,198.3 172.5,198.3 174,198.3 175.5,198.3 177,198.3 178.5,198.3 180,198.3 181.5,198.3 183,198.3 184.5,198.3 186,198.3 187.5,198.2 189,198.2 190.5,198.2 192,198.2 193.5,198.2 195,198.2 196.5,198.2 198,198.2 199.5,198.2 201,198.1 202.5,198.1 204,198.1 205.5,198.1 207,198.1 208.5,198.1 210,198 211.5,198 213,198 214.5,198 216,198 217.5,198 219,197.9 220.5,197.9 222,197.9 223.5,197.9 225,197.8 226.5,197.8 228,197.8 229.5,197.7 231,197.7 232.5,197.6 234,197.5 235.5,197.3 237,197.2 238.5,197 240,196.9 241.5,196.7 243,196.5 244.5,196.2 246,196 247.5,195.8 249,195.5 250.5,195.2 252,194.8 253.5,194.3 255,193.7 256.5,193.2 258,192.6 259.5,192 261,191.5 262.5,191 264,190.5 265.5,190 267,189.6 268.5,189.1 270,188.7 271.5,188.2 273,187.8 274.5,187.4 276,186.9 277.5,186.5 279,186 280.5,185.6 282,185.1 283.5,184.7 285,184.2 286.5,183.8 288,183.3 289.5,182.9 291,182.4 292.5,181.9 294,181.5 295.5,181 297,180.5 298.5,180 300,179.6 301.5,179.2 303,178.9 304.5,178.5 306,178.2 307.5,177.8 309,177.3 310.5,176.7 312,175.9 313.5,175.1 315,174.3 316.5,173.5 318,172.7 319.5,172.1 321,171.4 322.5,170.7 324,169.9 325.5,169 327,167.8 328.5,166.1 330,164.3 331.5,162.6 333,161 334.5,159.4 336,157.8 337.5,156.5 339,155.5 340.5,154.7 342,154 343.5,153.4 345,152.9 346.5,152.6 348,152.3 349.5,152.1 351,151.9 352.5,151.7 354,151.5 355.5,151.3 357,151.1 358.5,150.8 360,150.5 361.5,150.2 363,149.9 364.5,149.6 366,149.4 367.5,149.1 369,148.9 370.5,148.7 372,148.5 373.5,148.3 375,148.1 376.5,147.9 378,147.7 379.5,147.6 381,147.4 382.5,147.2 384,147.1 385.5,146.9 387,146.7 388.5,146.5 390,146.2 391.5,145.9 393,145.5 394.5,145 396,144.4 397.5,143.3 399,141.8 400.5,140.3 402,139 403.5,137.9 405,136.8 406.5,135.6 408,134.3 409.5,132.5 411,130.4 412.5,128.3 414,126.4 415.5,124.6 417,123.2 418.5,121.8 420,120.6 421.5,119.4 423,118.4 424.5,117.4 426,116.2 427.5,114.6 429,112.5 430.5,109.8 432,107.1 433.5,104.3 435,101.2 436.5,98.1 438,95.1 439.5,92.4 441,89.9 442.5,87.6 444,85.7 445.5,84.1 447,82.5 448.5,80.9 450,79.4 451.5,77.8 453,76.4 454.5,75 456,73.6 457.5,72.2 459,71 460.5,70 462,69.2 463.5,68.4 465,67.3 466.5,64.9 468,61.2 469.5,57.8 471,55.3 472.5,53 473.8,51.4"/>
</g>
</svg></body></html>
